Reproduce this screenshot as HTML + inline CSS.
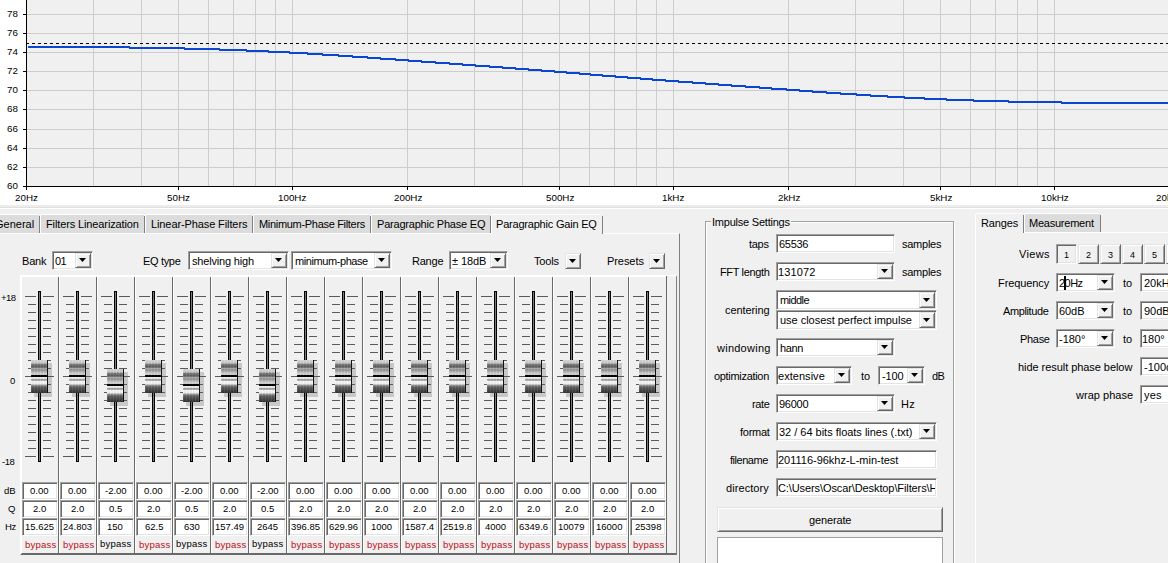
<!DOCTYPE html><html><head><meta charset="utf-8"><style>
html,body{margin:0;padding:0}
body{width:1168px;height:563px;overflow:hidden;position:relative;background:#f0f0f0;font-family:"Liberation Sans",sans-serif}
.t{position:absolute;white-space:nowrap;line-height:1;color:#000}
.f10{font-size:10px}.f9{font-size:9px}.f9_5{font-size:9.5px}.f9_8{font-size:9.8px}.f11{font-size:11px}
.r{position:absolute}
.sk{border:1px solid;border-color:#a0a0a0 #fff #fff #a0a0a0;box-shadow:inset 1px 1px #696969, inset -1px -1px #e3e3e3}
.rs{border:1px solid;border-color:#e3e3e3 #696969 #696969 #e3e3e3;box-shadow:inset 1px 1px #fff, inset -1px -1px #a0a0a0}
.thumb{width:16px;height:33px;border-right:1px solid #111;background:repeating-linear-gradient(90deg,rgba(255,255,255,.07) 0 1px,rgba(0,0,0,.03) 1px 3px),linear-gradient(#d8d8d8 0px,#c8c8c8 3px,#7a7a7a 4.5px,#5a5a5a 7px,#a8a8a8 8.5px,#909090 10px,#b8b8b8 12px,#d0d0d0 13.5px,#c8c8c8 15px,#000 15px,#000 17px,#f4f4f4 17px,#e0e0e0 19px,#a0a0a0 19.5px,#b0b0b0 20.5px,#f8f8f8 21.5px,#f0f0f0 24px,#a0a0a0 25px,#606060 27px,#303030 33px)}
</style></head><body><svg class="r" style="left:0;top:0" width="1168" height="205" shape-rendering="crispEdges"><rect x="0" y="0" width="1168" height="205" fill="#fff"/><rect x="27" y="0" width="1141" height="186" fill="#f0f0f0"/><rect x="27" y="14" width="1141" height="1" fill="#cdcdcd"/><rect x="27" y="33" width="1141" height="1" fill="#cdcdcd"/><rect x="27" y="52" width="1141" height="1" fill="#cdcdcd"/><rect x="27" y="71" width="1141" height="1" fill="#cdcdcd"/><rect x="27" y="90" width="1141" height="1" fill="#cdcdcd"/><rect x="27" y="109" width="1141" height="1" fill="#cdcdcd"/><rect x="27" y="129" width="1141" height="1" fill="#cdcdcd"/><rect x="27" y="148" width="1141" height="1" fill="#cdcdcd"/><rect x="27" y="167" width="1141" height="1" fill="#cdcdcd"/><rect x="93" y="0" width="1" height="186" fill="#cdcdcd"/><rect x="141" y="0" width="1" height="186" fill="#cdcdcd"/><rect x="178" y="0" width="1" height="186" fill="#cdcdcd"/><rect x="208" y="0" width="1" height="186" fill="#cdcdcd"/><rect x="233" y="0" width="1" height="186" fill="#cdcdcd"/><rect x="255" y="0" width="1" height="186" fill="#cdcdcd"/><rect x="275" y="0" width="1" height="186" fill="#cdcdcd"/><rect x="292" y="0" width="1" height="186" fill="#cdcdcd"/><rect x="407" y="0" width="1" height="186" fill="#cdcdcd"/><rect x="474" y="0" width="1" height="186" fill="#cdcdcd"/><rect x="522" y="0" width="1" height="186" fill="#cdcdcd"/><rect x="559" y="0" width="1" height="186" fill="#cdcdcd"/><rect x="589" y="0" width="1" height="186" fill="#cdcdcd"/><rect x="614" y="0" width="1" height="186" fill="#cdcdcd"/><rect x="636" y="0" width="1" height="186" fill="#cdcdcd"/><rect x="656" y="0" width="1" height="186" fill="#cdcdcd"/><rect x="673" y="0" width="1" height="186" fill="#cdcdcd"/><rect x="788" y="0" width="1" height="186" fill="#cdcdcd"/><rect x="855" y="0" width="1" height="186" fill="#cdcdcd"/><rect x="903" y="0" width="1" height="186" fill="#cdcdcd"/><rect x="940" y="0" width="1" height="186" fill="#cdcdcd"/><rect x="970" y="0" width="1" height="186" fill="#cdcdcd"/><rect x="995" y="0" width="1" height="186" fill="#cdcdcd"/><rect x="1017" y="0" width="1" height="186" fill="#cdcdcd"/><rect x="1037" y="0" width="1" height="186" fill="#cdcdcd"/><rect x="1054" y="0" width="1" height="186" fill="#cdcdcd"/><line x1="26" y1="43.5" x2="1168" y2="43.5" stroke="#000" stroke-width="1" stroke-dasharray="3 3"/><rect x="28" y="46" width="102" height="2" fill="#0a46d2"/><rect x="129" y="47" width="56" height="2" fill="#0a46d2"/><rect x="184" y="48" width="36" height="2" fill="#0a46d2"/><rect x="219" y="49" width="28" height="2" fill="#0a46d2"/><rect x="246" y="50" width="23" height="2" fill="#0a46d2"/><rect x="268" y="51" width="22" height="2" fill="#0a46d2"/><rect x="289" y="52" width="19" height="2" fill="#0a46d2"/><rect x="307" y="53" width="16" height="2" fill="#0a46d2"/><rect x="322" y="54" width="17" height="2" fill="#0a46d2"/><rect x="338" y="55" width="15" height="2" fill="#0a46d2"/><rect x="352" y="56" width="16" height="2" fill="#0a46d2"/><rect x="367" y="57" width="14" height="2" fill="#0a46d2"/><rect x="380" y="58" width="16" height="2" fill="#0a46d2"/><rect x="395" y="59" width="14" height="2" fill="#0a46d2"/><rect x="408" y="60" width="14" height="2" fill="#0a46d2"/><rect x="421" y="61" width="15" height="2" fill="#0a46d2"/><rect x="435" y="62" width="15" height="2" fill="#0a46d2"/><rect x="449" y="63" width="14" height="2" fill="#0a46d2"/><rect x="462" y="64" width="14" height="2" fill="#0a46d2"/><rect x="475" y="65" width="15" height="2" fill="#0a46d2"/><rect x="489" y="66" width="14" height="2" fill="#0a46d2"/><rect x="502" y="67" width="14" height="2" fill="#0a46d2"/><rect x="515" y="68" width="14" height="2" fill="#0a46d2"/><rect x="528" y="69" width="14" height="2" fill="#0a46d2"/><rect x="541" y="70" width="14" height="2" fill="#0a46d2"/><rect x="554" y="71" width="13" height="2" fill="#0a46d2"/><rect x="566" y="72" width="14" height="2" fill="#0a46d2"/><rect x="579" y="73" width="12" height="2" fill="#0a46d2"/><rect x="590" y="74" width="13" height="2" fill="#0a46d2"/><rect x="602" y="75" width="14" height="2" fill="#0a46d2"/><rect x="615" y="76" width="13" height="2" fill="#0a46d2"/><rect x="627" y="77" width="14" height="2" fill="#0a46d2"/><rect x="640" y="78" width="13" height="2" fill="#0a46d2"/><rect x="652" y="79" width="14" height="2" fill="#0a46d2"/><rect x="665" y="80" width="14" height="2" fill="#0a46d2"/><rect x="678" y="81" width="15" height="2" fill="#0a46d2"/><rect x="692" y="82" width="14" height="2" fill="#0a46d2"/><rect x="705" y="83" width="14" height="2" fill="#0a46d2"/><rect x="718" y="84" width="14" height="2" fill="#0a46d2"/><rect x="731" y="85" width="15" height="2" fill="#0a46d2"/><rect x="745" y="86" width="15" height="2" fill="#0a46d2"/><rect x="759" y="87" width="13" height="2" fill="#0a46d2"/><rect x="771" y="88" width="16" height="2" fill="#0a46d2"/><rect x="786" y="89" width="14" height="2" fill="#0a46d2"/><rect x="799" y="90" width="14" height="2" fill="#0a46d2"/><rect x="812" y="91" width="15" height="2" fill="#0a46d2"/><rect x="826" y="92" width="15" height="2" fill="#0a46d2"/><rect x="840" y="93" width="17" height="2" fill="#0a46d2"/><rect x="856" y="94" width="15" height="2" fill="#0a46d2"/><rect x="870" y="95" width="18" height="2" fill="#0a46d2"/><rect x="887" y="96" width="18" height="2" fill="#0a46d2"/><rect x="904" y="97" width="21" height="2" fill="#0a46d2"/><rect x="924" y="98" width="23" height="2" fill="#0a46d2"/><rect x="946" y="99" width="28" height="2" fill="#0a46d2"/><rect x="973" y="100" width="36" height="2" fill="#0a46d2"/><rect x="1008" y="101" width="54" height="2" fill="#0a46d2"/><rect x="1061" y="102" width="108" height="2" fill="#0a46d2"/><rect x="26" y="0" width="1" height="190" fill="#000"/><rect x="23" y="186" width="1145" height="1" fill="#000"/><rect x="23" y="14" width="3" height="1" fill="#000"/><rect x="23" y="33" width="3" height="1" fill="#000"/><rect x="23" y="52" width="3" height="1" fill="#000"/><rect x="23" y="71" width="3" height="1" fill="#000"/><rect x="23" y="90" width="3" height="1" fill="#000"/><rect x="23" y="109" width="3" height="1" fill="#000"/><rect x="23" y="129" width="3" height="1" fill="#000"/><rect x="23" y="148" width="3" height="1" fill="#000"/><rect x="23" y="167" width="3" height="1" fill="#000"/><rect x="26" y="186" width="1" height="4" fill="#000"/><rect x="178" y="186" width="1" height="4" fill="#000"/><rect x="292" y="186" width="1" height="4" fill="#000"/><rect x="407" y="186" width="1" height="4" fill="#000"/><rect x="559" y="186" width="1" height="4" fill="#000"/><rect x="673" y="186" width="1" height="4" fill="#000"/><rect x="788" y="186" width="1" height="4" fill="#000"/><rect x="940" y="186" width="1" height="4" fill="#000"/><rect x="1054" y="186" width="1" height="4" fill="#000"/><rect x="1169" y="186" width="1" height="4" fill="#000"/></svg>
<div class="t f9_8" style="left:7px;top:9px;">78</div>
<div class="t f9_8" style="left:7px;top:28px;">76</div>
<div class="t f9_8" style="left:7px;top:47px;">74</div>
<div class="t f9_8" style="left:7px;top:66px;">72</div>
<div class="t f9_8" style="left:7px;top:85px;">70</div>
<div class="t f9_8" style="left:7px;top:104px;">68</div>
<div class="t f9_8" style="left:7px;top:124px;">66</div>
<div class="t f9_8" style="left:7px;top:143px;">64</div>
<div class="t f9_8" style="left:7px;top:162px;">62</div>
<div class="t f9_8" style="left:7px;top:181px;">60</div>
<div class="t f9_8" style="left:15px;top:193px;">20Hz</div>
<div class="t f9_8" style="left:167px;top:193px;">50Hz</div>
<div class="t f9_8" style="left:278px;top:193px;">100Hz</div>
<div class="t f9_8" style="left:394px;top:193px;">200Hz</div>
<div class="t f9_8" style="left:546px;top:193px;">500Hz</div>
<div class="t f9_8" style="left:662px;top:193px;">1kHz</div>
<div class="t f9_8" style="left:778px;top:193px;">2kHz</div>
<div class="t f9_8" style="left:930px;top:193px;">5kHz</div>
<div class="t f9_8" style="left:1041px;top:193px;">10kHz</div>
<div class="t f9_8" style="left:1156px;top:193px;">20kHz</div>
<div class="r" style="left:0px;top:205px;width:1168px;height:2px;background:#ededed;"></div>
<div class="r" style="left:0px;top:207px;width:1168px;height:1px;background:#e0e0e0;"></div>
<div class="r" style="left:0px;top:208px;width:1168px;height:1px;background:#fff;"></div>
<div class="r" style="left:-5px;top:233px;width:685px;height:400px;background:#f0f0f0;border-top:1px solid #fff;border-right:1px solid #808080;box-sizing:border-box"></div>
<div class="r" style="left:-9px;top:215px;width:48px;height:18px;background:#dcdcdc;"></div>
<div class="r" style="left:-9px;top:214px;width:47px;height:1px;background:#fff;"></div>
<div class="r" style="left:-10px;top:215px;width:1px;height:18px;background:#fff;"></div>
<div class="r" style="left:39px;top:216px;width:1px;height:17px;background:#808080;"></div>
<div class="t f11" style="left:-5px;top:219px;">General</div>
<div class="r" style="left:41px;top:215px;width:103px;height:18px;background:#dcdcdc;"></div>
<div class="r" style="left:41px;top:214px;width:102px;height:1px;background:#fff;"></div>
<div class="r" style="left:40px;top:215px;width:1px;height:18px;background:#fff;"></div>
<div class="r" style="left:144px;top:216px;width:1px;height:17px;background:#808080;"></div>
<div class="t f11" style="left:46px;top:219px;letter-spacing:-0.12px;">Filters Linearization</div>
<div class="r" style="left:146px;top:215px;width:106px;height:18px;background:#dcdcdc;"></div>
<div class="r" style="left:146px;top:214px;width:105px;height:1px;background:#fff;"></div>
<div class="r" style="left:145px;top:215px;width:1px;height:18px;background:#fff;"></div>
<div class="r" style="left:252px;top:216px;width:1px;height:17px;background:#808080;"></div>
<div class="t f11" style="left:151px;top:219px;letter-spacing:-0.105px;">Linear-Phase Filters</div>
<div class="r" style="left:254px;top:215px;width:116px;height:18px;background:#dcdcdc;"></div>
<div class="r" style="left:254px;top:214px;width:115px;height:1px;background:#fff;"></div>
<div class="r" style="left:253px;top:215px;width:1px;height:18px;background:#fff;"></div>
<div class="r" style="left:370px;top:216px;width:1px;height:17px;background:#808080;"></div>
<div class="t f11" style="left:259px;top:219px;letter-spacing:-0.31px;">Minimum-Phase Filters</div>
<div class="r" style="left:372px;top:215px;width:118px;height:18px;background:#dcdcdc;"></div>
<div class="r" style="left:372px;top:214px;width:117px;height:1px;background:#fff;"></div>
<div class="r" style="left:371px;top:215px;width:1px;height:18px;background:#fff;"></div>
<div class="r" style="left:490px;top:216px;width:1px;height:17px;background:#808080;"></div>
<div class="t f11" style="left:377px;top:219px;letter-spacing:-0.211px;">Paragraphic Phase EQ</div>
<div class="r" style="left:492px;top:215px;width:110px;height:19px;background:#f0f0f0;"></div>
<div class="r" style="left:492px;top:214px;width:109px;height:1px;background:#fff;"></div>
<div class="r" style="left:491px;top:215px;width:1px;height:19px;background:#fff;"></div>
<div class="r" style="left:602px;top:216px;width:1px;height:18px;background:#808080;"></div>
<div class="t f11" style="left:496px;top:219px;letter-spacing:-0.206px;">Paragraphic Gain EQ</div>
<div class="t f11" style="left:22px;top:256px;letter-spacing:-0.2px;">Bank</div>
<div class="r sk" style="left:52px;top:251px;width:39px;height:17px;background:#fff"></div>
<div class="r rs" style="left:75px;top:253px;width:14px;height:13px;background:#f0f0f0"></div>
<svg class="r" style="left:79px;top:258px" width="7" height="4"><path d="M0 0H7L3.5 4Z" fill="#000"/></svg>
<div class="t f11" style="left:55px;top:256px;letter-spacing:-0.6px;">01</div>
<div class="t f11" style="left:143px;top:256px;letter-spacing:-0.333px;">EQ type</div>
<div class="r sk" style="left:188px;top:251px;width:99px;height:17px;background:#fff"></div>
<div class="r rs" style="left:271px;top:253px;width:14px;height:13px;background:#f0f0f0"></div>
<svg class="r" style="left:275px;top:258px" width="7" height="4"><path d="M0 0H7L3.5 4Z" fill="#000"/></svg>
<div class="t f11" style="left:192px;top:256px;letter-spacing:-0.183px;">shelving high</div>
<div class="r sk" style="left:291px;top:251px;width:99px;height:17px;background:#fff"></div>
<div class="r rs" style="left:374px;top:253px;width:14px;height:13px;background:#f0f0f0"></div>
<svg class="r" style="left:378px;top:258px" width="7" height="4"><path d="M0 0H7L3.5 4Z" fill="#000"/></svg>
<div class="t f11" style="left:295px;top:256px;letter-spacing:-0.417px;">minimum-phase</div>
<div class="t f11" style="left:412px;top:256px;letter-spacing:-0.225px;">Range</div>
<div class="r sk" style="left:449px;top:251px;width:57px;height:17px;background:#fff"></div>
<div class="r rs" style="left:490px;top:253px;width:14px;height:13px;background:#f0f0f0"></div>
<svg class="r" style="left:494px;top:258px" width="7" height="4"><path d="M0 0H7L3.5 4Z" fill="#000"/></svg>
<div class="t f11" style="left:452px;top:256px;letter-spacing:-0.1px;">&plusmn; 18dB</div>
<div class="t f11" style="left:534px;top:256px;letter-spacing:-0.15px;">Tools</div>
<div class="r rs" style="left:565px;top:253px;width:14px;height:14px;background:#f0f0f0"></div>
<svg class="r" style="left:569px;top:259px" width="7" height="4"><path d="M0 0H7L3.5 4Z" fill="#000"/></svg>
<div class="t f11" style="left:607px;top:256px;letter-spacing:-0.067px;">Presets</div>
<div class="r rs" style="left:649px;top:253px;width:14px;height:14px;background:#f0f0f0"></div>
<svg class="r" style="left:653px;top:259px" width="7" height="4"><path d="M0 0H7L3.5 4Z" fill="#000"/></svg>
<div class="r" style="left:20px;top:275px;width:657px;height:280px;background:#f0f0f0;border-top:2px solid #fff;border-left:2px solid #fff;border-right:1px solid #808080;border-bottom:2px solid #696969;box-sizing:border-box"></div>
<div class="t f9_5" style="left:1px;top:293px;letter-spacing:-0.6px;">+18</div>
<div class="t f9_5" style="left:10px;top:376px;">0</div>
<div class="t f9_5" style="left:2px;top:457px;letter-spacing:-0.5px;">-18</div>
<div class="t f9_5" style="left:4px;top:486px;">dB</div>
<div class="t f9_5" style="left:8px;top:504px;">Q</div>
<div class="t f9_5" style="left:5px;top:522px;letter-spacing:-0.4px;">Hz</div>
<div class="r" style="left:47px;top:363px;width:5px;height:34px;background:#c8c8c8"></div>
<div class="r" style="left:34px;top:392px;width:18px;height:5px;background:#c8c8c8"></div>
<div class="r" style="left:25px;top:296px;width:11px;height:1px;background:#5a5a5a;"></div>
<div class="r" style="left:43px;top:296px;width:11px;height:1px;background:#5a5a5a;"></div>
<div class="r" style="left:28px;top:304px;width:8px;height:1px;background:#5a5a5a;"></div>
<div class="r" style="left:43px;top:304px;width:8px;height:1px;background:#5a5a5a;"></div>
<div class="r" style="left:28px;top:312px;width:8px;height:1px;background:#5a5a5a;"></div>
<div class="r" style="left:43px;top:312px;width:8px;height:1px;background:#5a5a5a;"></div>
<div class="r" style="left:28px;top:320px;width:8px;height:1px;background:#5a5a5a;"></div>
<div class="r" style="left:43px;top:320px;width:8px;height:1px;background:#5a5a5a;"></div>
<div class="r" style="left:28px;top:328px;width:8px;height:1px;background:#5a5a5a;"></div>
<div class="r" style="left:43px;top:328px;width:8px;height:1px;background:#5a5a5a;"></div>
<div class="r" style="left:28px;top:336px;width:8px;height:1px;background:#5a5a5a;"></div>
<div class="r" style="left:43px;top:336px;width:8px;height:1px;background:#5a5a5a;"></div>
<div class="r" style="left:28px;top:344px;width:8px;height:1px;background:#5a5a5a;"></div>
<div class="r" style="left:43px;top:344px;width:8px;height:1px;background:#5a5a5a;"></div>
<div class="r" style="left:28px;top:352px;width:8px;height:1px;background:#5a5a5a;"></div>
<div class="r" style="left:43px;top:352px;width:8px;height:1px;background:#5a5a5a;"></div>
<div class="r" style="left:28px;top:360px;width:8px;height:1px;background:#5a5a5a;"></div>
<div class="r" style="left:43px;top:360px;width:8px;height:1px;background:#5a5a5a;"></div>
<div class="r" style="left:28px;top:368px;width:8px;height:1px;background:#5a5a5a;"></div>
<div class="r" style="left:43px;top:368px;width:8px;height:1px;background:#5a5a5a;"></div>
<div class="r" style="left:25px;top:376px;width:11px;height:1px;background:#5a5a5a;"></div>
<div class="r" style="left:43px;top:376px;width:11px;height:1px;background:#5a5a5a;"></div>
<div class="r" style="left:28px;top:384px;width:8px;height:1px;background:#5a5a5a;"></div>
<div class="r" style="left:43px;top:384px;width:8px;height:1px;background:#5a5a5a;"></div>
<div class="r" style="left:28px;top:392px;width:8px;height:1px;background:#5a5a5a;"></div>
<div class="r" style="left:43px;top:392px;width:8px;height:1px;background:#5a5a5a;"></div>
<div class="r" style="left:28px;top:400px;width:8px;height:1px;background:#5a5a5a;"></div>
<div class="r" style="left:43px;top:400px;width:8px;height:1px;background:#5a5a5a;"></div>
<div class="r" style="left:28px;top:408px;width:8px;height:1px;background:#5a5a5a;"></div>
<div class="r" style="left:43px;top:408px;width:8px;height:1px;background:#5a5a5a;"></div>
<div class="r" style="left:28px;top:416px;width:8px;height:1px;background:#5a5a5a;"></div>
<div class="r" style="left:43px;top:416px;width:8px;height:1px;background:#5a5a5a;"></div>
<div class="r" style="left:28px;top:424px;width:8px;height:1px;background:#5a5a5a;"></div>
<div class="r" style="left:43px;top:424px;width:8px;height:1px;background:#5a5a5a;"></div>
<div class="r" style="left:28px;top:432px;width:8px;height:1px;background:#5a5a5a;"></div>
<div class="r" style="left:43px;top:432px;width:8px;height:1px;background:#5a5a5a;"></div>
<div class="r" style="left:28px;top:440px;width:8px;height:1px;background:#5a5a5a;"></div>
<div class="r" style="left:43px;top:440px;width:8px;height:1px;background:#5a5a5a;"></div>
<div class="r" style="left:28px;top:448px;width:8px;height:1px;background:#5a5a5a;"></div>
<div class="r" style="left:43px;top:448px;width:8px;height:1px;background:#5a5a5a;"></div>
<div class="r" style="left:25px;top:456px;width:11px;height:1px;background:#5a5a5a;"></div>
<div class="r" style="left:43px;top:456px;width:11px;height:1px;background:#5a5a5a;"></div>
<div class="r" style="left:38px;top:291px;width:3px;height:171px;background:#7a7a7a;border:1px solid #000;box-sizing:border-box"></div>
<div class="r thumb" style="left:31px;top:360px"></div>
<div class="r" style="left:31px;top:376px;width:17px;height:1px;background:#000;"></div>
<div class="r sk" style="left:22px;top:482px;width:34px;height:16px;background:#fff"></div>
<div class="t f9_5" style="left:30px;top:486px;">0.00</div>
<div class="r sk" style="left:22px;top:500px;width:34px;height:16px;background:#fff"></div>
<div class="t f9_5" style="left:33px;top:504px;">2.0</div>
<div class="r sk" style="left:22px;top:518px;width:34px;height:16px;background:#fff"></div>
<div class="t f9_5" style="left:25px;top:522px;">15.625</div>
<div class="t f9_5" style="left:25px;top:540px;letter-spacing:0.25px;color:#bb0f18;">bypass</div>
<div class="r" style="left:58px;top:277px;width:2px;height:276px;background:#fff;border-left:1px solid #696969;box-sizing:border-box"></div>
<div class="r" style="left:85px;top:363px;width:5px;height:34px;background:#c8c8c8"></div>
<div class="r" style="left:72px;top:392px;width:18px;height:5px;background:#c8c8c8"></div>
<div class="r" style="left:63px;top:296px;width:11px;height:1px;background:#5a5a5a;"></div>
<div class="r" style="left:81px;top:296px;width:11px;height:1px;background:#5a5a5a;"></div>
<div class="r" style="left:66px;top:304px;width:8px;height:1px;background:#5a5a5a;"></div>
<div class="r" style="left:81px;top:304px;width:8px;height:1px;background:#5a5a5a;"></div>
<div class="r" style="left:66px;top:312px;width:8px;height:1px;background:#5a5a5a;"></div>
<div class="r" style="left:81px;top:312px;width:8px;height:1px;background:#5a5a5a;"></div>
<div class="r" style="left:66px;top:320px;width:8px;height:1px;background:#5a5a5a;"></div>
<div class="r" style="left:81px;top:320px;width:8px;height:1px;background:#5a5a5a;"></div>
<div class="r" style="left:66px;top:328px;width:8px;height:1px;background:#5a5a5a;"></div>
<div class="r" style="left:81px;top:328px;width:8px;height:1px;background:#5a5a5a;"></div>
<div class="r" style="left:66px;top:336px;width:8px;height:1px;background:#5a5a5a;"></div>
<div class="r" style="left:81px;top:336px;width:8px;height:1px;background:#5a5a5a;"></div>
<div class="r" style="left:66px;top:344px;width:8px;height:1px;background:#5a5a5a;"></div>
<div class="r" style="left:81px;top:344px;width:8px;height:1px;background:#5a5a5a;"></div>
<div class="r" style="left:66px;top:352px;width:8px;height:1px;background:#5a5a5a;"></div>
<div class="r" style="left:81px;top:352px;width:8px;height:1px;background:#5a5a5a;"></div>
<div class="r" style="left:66px;top:360px;width:8px;height:1px;background:#5a5a5a;"></div>
<div class="r" style="left:81px;top:360px;width:8px;height:1px;background:#5a5a5a;"></div>
<div class="r" style="left:66px;top:368px;width:8px;height:1px;background:#5a5a5a;"></div>
<div class="r" style="left:81px;top:368px;width:8px;height:1px;background:#5a5a5a;"></div>
<div class="r" style="left:63px;top:376px;width:11px;height:1px;background:#5a5a5a;"></div>
<div class="r" style="left:81px;top:376px;width:11px;height:1px;background:#5a5a5a;"></div>
<div class="r" style="left:66px;top:384px;width:8px;height:1px;background:#5a5a5a;"></div>
<div class="r" style="left:81px;top:384px;width:8px;height:1px;background:#5a5a5a;"></div>
<div class="r" style="left:66px;top:392px;width:8px;height:1px;background:#5a5a5a;"></div>
<div class="r" style="left:81px;top:392px;width:8px;height:1px;background:#5a5a5a;"></div>
<div class="r" style="left:66px;top:400px;width:8px;height:1px;background:#5a5a5a;"></div>
<div class="r" style="left:81px;top:400px;width:8px;height:1px;background:#5a5a5a;"></div>
<div class="r" style="left:66px;top:408px;width:8px;height:1px;background:#5a5a5a;"></div>
<div class="r" style="left:81px;top:408px;width:8px;height:1px;background:#5a5a5a;"></div>
<div class="r" style="left:66px;top:416px;width:8px;height:1px;background:#5a5a5a;"></div>
<div class="r" style="left:81px;top:416px;width:8px;height:1px;background:#5a5a5a;"></div>
<div class="r" style="left:66px;top:424px;width:8px;height:1px;background:#5a5a5a;"></div>
<div class="r" style="left:81px;top:424px;width:8px;height:1px;background:#5a5a5a;"></div>
<div class="r" style="left:66px;top:432px;width:8px;height:1px;background:#5a5a5a;"></div>
<div class="r" style="left:81px;top:432px;width:8px;height:1px;background:#5a5a5a;"></div>
<div class="r" style="left:66px;top:440px;width:8px;height:1px;background:#5a5a5a;"></div>
<div class="r" style="left:81px;top:440px;width:8px;height:1px;background:#5a5a5a;"></div>
<div class="r" style="left:66px;top:448px;width:8px;height:1px;background:#5a5a5a;"></div>
<div class="r" style="left:81px;top:448px;width:8px;height:1px;background:#5a5a5a;"></div>
<div class="r" style="left:63px;top:456px;width:11px;height:1px;background:#5a5a5a;"></div>
<div class="r" style="left:81px;top:456px;width:11px;height:1px;background:#5a5a5a;"></div>
<div class="r" style="left:76px;top:291px;width:3px;height:171px;background:#7a7a7a;border:1px solid #000;box-sizing:border-box"></div>
<div class="r thumb" style="left:69px;top:360px"></div>
<div class="r" style="left:69px;top:376px;width:17px;height:1px;background:#000;"></div>
<div class="r sk" style="left:60px;top:482px;width:34px;height:16px;background:#fff"></div>
<div class="t f9_5" style="left:68px;top:486px;">0.00</div>
<div class="r sk" style="left:60px;top:500px;width:34px;height:16px;background:#fff"></div>
<div class="t f9_5" style="left:71px;top:504px;">2.0</div>
<div class="r sk" style="left:60px;top:518px;width:34px;height:16px;background:#fff"></div>
<div class="t f9_5" style="left:63px;top:522px;">24.803</div>
<div class="t f9_5" style="left:63px;top:540px;letter-spacing:0.25px;color:#bb0f18;">bypass</div>
<div class="r" style="left:96px;top:277px;width:2px;height:276px;background:#fff;border-left:1px solid #696969;box-sizing:border-box"></div>
<div class="r" style="left:123px;top:372px;width:5px;height:34px;background:#c8c8c8"></div>
<div class="r" style="left:110px;top:401px;width:18px;height:5px;background:#c8c8c8"></div>
<div class="r" style="left:101px;top:296px;width:11px;height:1px;background:#5a5a5a;"></div>
<div class="r" style="left:119px;top:296px;width:11px;height:1px;background:#5a5a5a;"></div>
<div class="r" style="left:104px;top:304px;width:8px;height:1px;background:#5a5a5a;"></div>
<div class="r" style="left:119px;top:304px;width:8px;height:1px;background:#5a5a5a;"></div>
<div class="r" style="left:104px;top:312px;width:8px;height:1px;background:#5a5a5a;"></div>
<div class="r" style="left:119px;top:312px;width:8px;height:1px;background:#5a5a5a;"></div>
<div class="r" style="left:104px;top:320px;width:8px;height:1px;background:#5a5a5a;"></div>
<div class="r" style="left:119px;top:320px;width:8px;height:1px;background:#5a5a5a;"></div>
<div class="r" style="left:104px;top:328px;width:8px;height:1px;background:#5a5a5a;"></div>
<div class="r" style="left:119px;top:328px;width:8px;height:1px;background:#5a5a5a;"></div>
<div class="r" style="left:104px;top:336px;width:8px;height:1px;background:#5a5a5a;"></div>
<div class="r" style="left:119px;top:336px;width:8px;height:1px;background:#5a5a5a;"></div>
<div class="r" style="left:104px;top:344px;width:8px;height:1px;background:#5a5a5a;"></div>
<div class="r" style="left:119px;top:344px;width:8px;height:1px;background:#5a5a5a;"></div>
<div class="r" style="left:104px;top:352px;width:8px;height:1px;background:#5a5a5a;"></div>
<div class="r" style="left:119px;top:352px;width:8px;height:1px;background:#5a5a5a;"></div>
<div class="r" style="left:104px;top:360px;width:8px;height:1px;background:#5a5a5a;"></div>
<div class="r" style="left:119px;top:360px;width:8px;height:1px;background:#5a5a5a;"></div>
<div class="r" style="left:104px;top:368px;width:8px;height:1px;background:#5a5a5a;"></div>
<div class="r" style="left:119px;top:368px;width:8px;height:1px;background:#5a5a5a;"></div>
<div class="r" style="left:101px;top:376px;width:11px;height:1px;background:#5a5a5a;"></div>
<div class="r" style="left:119px;top:376px;width:11px;height:1px;background:#5a5a5a;"></div>
<div class="r" style="left:104px;top:384px;width:8px;height:1px;background:#5a5a5a;"></div>
<div class="r" style="left:119px;top:384px;width:8px;height:1px;background:#5a5a5a;"></div>
<div class="r" style="left:104px;top:392px;width:8px;height:1px;background:#5a5a5a;"></div>
<div class="r" style="left:119px;top:392px;width:8px;height:1px;background:#5a5a5a;"></div>
<div class="r" style="left:104px;top:400px;width:8px;height:1px;background:#5a5a5a;"></div>
<div class="r" style="left:119px;top:400px;width:8px;height:1px;background:#5a5a5a;"></div>
<div class="r" style="left:104px;top:408px;width:8px;height:1px;background:#5a5a5a;"></div>
<div class="r" style="left:119px;top:408px;width:8px;height:1px;background:#5a5a5a;"></div>
<div class="r" style="left:104px;top:416px;width:8px;height:1px;background:#5a5a5a;"></div>
<div class="r" style="left:119px;top:416px;width:8px;height:1px;background:#5a5a5a;"></div>
<div class="r" style="left:104px;top:424px;width:8px;height:1px;background:#5a5a5a;"></div>
<div class="r" style="left:119px;top:424px;width:8px;height:1px;background:#5a5a5a;"></div>
<div class="r" style="left:104px;top:432px;width:8px;height:1px;background:#5a5a5a;"></div>
<div class="r" style="left:119px;top:432px;width:8px;height:1px;background:#5a5a5a;"></div>
<div class="r" style="left:104px;top:440px;width:8px;height:1px;background:#5a5a5a;"></div>
<div class="r" style="left:119px;top:440px;width:8px;height:1px;background:#5a5a5a;"></div>
<div class="r" style="left:104px;top:448px;width:8px;height:1px;background:#5a5a5a;"></div>
<div class="r" style="left:119px;top:448px;width:8px;height:1px;background:#5a5a5a;"></div>
<div class="r" style="left:101px;top:456px;width:11px;height:1px;background:#5a5a5a;"></div>
<div class="r" style="left:119px;top:456px;width:11px;height:1px;background:#5a5a5a;"></div>
<div class="r" style="left:114px;top:291px;width:3px;height:171px;background:#7a7a7a;border:1px solid #000;box-sizing:border-box"></div>
<div class="r thumb" style="left:107px;top:369px"></div>
<div class="r" style="left:107px;top:385px;width:17px;height:1px;background:#000;"></div>
<div class="r sk" style="left:98px;top:482px;width:34px;height:16px;background:#fff"></div>
<div class="t f9_5" style="left:105px;top:486px;">-2.00</div>
<div class="r sk" style="left:98px;top:500px;width:34px;height:16px;background:#fff"></div>
<div class="t f9_5" style="left:109px;top:504px;">0.5</div>
<div class="r sk" style="left:98px;top:518px;width:34px;height:16px;background:#fff"></div>
<div class="t f9_5" style="left:107px;top:522px;">150</div>
<div class="t f9_5" style="left:100px;top:539px;letter-spacing:0.25px;">bypass</div>
<div class="r" style="left:134px;top:277px;width:2px;height:276px;background:#fff;border-left:1px solid #696969;box-sizing:border-box"></div>
<div class="r" style="left:161px;top:363px;width:5px;height:34px;background:#c8c8c8"></div>
<div class="r" style="left:148px;top:392px;width:18px;height:5px;background:#c8c8c8"></div>
<div class="r" style="left:139px;top:296px;width:11px;height:1px;background:#5a5a5a;"></div>
<div class="r" style="left:157px;top:296px;width:11px;height:1px;background:#5a5a5a;"></div>
<div class="r" style="left:142px;top:304px;width:8px;height:1px;background:#5a5a5a;"></div>
<div class="r" style="left:157px;top:304px;width:8px;height:1px;background:#5a5a5a;"></div>
<div class="r" style="left:142px;top:312px;width:8px;height:1px;background:#5a5a5a;"></div>
<div class="r" style="left:157px;top:312px;width:8px;height:1px;background:#5a5a5a;"></div>
<div class="r" style="left:142px;top:320px;width:8px;height:1px;background:#5a5a5a;"></div>
<div class="r" style="left:157px;top:320px;width:8px;height:1px;background:#5a5a5a;"></div>
<div class="r" style="left:142px;top:328px;width:8px;height:1px;background:#5a5a5a;"></div>
<div class="r" style="left:157px;top:328px;width:8px;height:1px;background:#5a5a5a;"></div>
<div class="r" style="left:142px;top:336px;width:8px;height:1px;background:#5a5a5a;"></div>
<div class="r" style="left:157px;top:336px;width:8px;height:1px;background:#5a5a5a;"></div>
<div class="r" style="left:142px;top:344px;width:8px;height:1px;background:#5a5a5a;"></div>
<div class="r" style="left:157px;top:344px;width:8px;height:1px;background:#5a5a5a;"></div>
<div class="r" style="left:142px;top:352px;width:8px;height:1px;background:#5a5a5a;"></div>
<div class="r" style="left:157px;top:352px;width:8px;height:1px;background:#5a5a5a;"></div>
<div class="r" style="left:142px;top:360px;width:8px;height:1px;background:#5a5a5a;"></div>
<div class="r" style="left:157px;top:360px;width:8px;height:1px;background:#5a5a5a;"></div>
<div class="r" style="left:142px;top:368px;width:8px;height:1px;background:#5a5a5a;"></div>
<div class="r" style="left:157px;top:368px;width:8px;height:1px;background:#5a5a5a;"></div>
<div class="r" style="left:139px;top:376px;width:11px;height:1px;background:#5a5a5a;"></div>
<div class="r" style="left:157px;top:376px;width:11px;height:1px;background:#5a5a5a;"></div>
<div class="r" style="left:142px;top:384px;width:8px;height:1px;background:#5a5a5a;"></div>
<div class="r" style="left:157px;top:384px;width:8px;height:1px;background:#5a5a5a;"></div>
<div class="r" style="left:142px;top:392px;width:8px;height:1px;background:#5a5a5a;"></div>
<div class="r" style="left:157px;top:392px;width:8px;height:1px;background:#5a5a5a;"></div>
<div class="r" style="left:142px;top:400px;width:8px;height:1px;background:#5a5a5a;"></div>
<div class="r" style="left:157px;top:400px;width:8px;height:1px;background:#5a5a5a;"></div>
<div class="r" style="left:142px;top:408px;width:8px;height:1px;background:#5a5a5a;"></div>
<div class="r" style="left:157px;top:408px;width:8px;height:1px;background:#5a5a5a;"></div>
<div class="r" style="left:142px;top:416px;width:8px;height:1px;background:#5a5a5a;"></div>
<div class="r" style="left:157px;top:416px;width:8px;height:1px;background:#5a5a5a;"></div>
<div class="r" style="left:142px;top:424px;width:8px;height:1px;background:#5a5a5a;"></div>
<div class="r" style="left:157px;top:424px;width:8px;height:1px;background:#5a5a5a;"></div>
<div class="r" style="left:142px;top:432px;width:8px;height:1px;background:#5a5a5a;"></div>
<div class="r" style="left:157px;top:432px;width:8px;height:1px;background:#5a5a5a;"></div>
<div class="r" style="left:142px;top:440px;width:8px;height:1px;background:#5a5a5a;"></div>
<div class="r" style="left:157px;top:440px;width:8px;height:1px;background:#5a5a5a;"></div>
<div class="r" style="left:142px;top:448px;width:8px;height:1px;background:#5a5a5a;"></div>
<div class="r" style="left:157px;top:448px;width:8px;height:1px;background:#5a5a5a;"></div>
<div class="r" style="left:139px;top:456px;width:11px;height:1px;background:#5a5a5a;"></div>
<div class="r" style="left:157px;top:456px;width:11px;height:1px;background:#5a5a5a;"></div>
<div class="r" style="left:152px;top:291px;width:3px;height:171px;background:#7a7a7a;border:1px solid #000;box-sizing:border-box"></div>
<div class="r thumb" style="left:145px;top:360px"></div>
<div class="r" style="left:145px;top:376px;width:17px;height:1px;background:#000;"></div>
<div class="r sk" style="left:136px;top:482px;width:34px;height:16px;background:#fff"></div>
<div class="t f9_5" style="left:144px;top:486px;">0.00</div>
<div class="r sk" style="left:136px;top:500px;width:34px;height:16px;background:#fff"></div>
<div class="t f9_5" style="left:147px;top:504px;">2.0</div>
<div class="r sk" style="left:136px;top:518px;width:34px;height:16px;background:#fff"></div>
<div class="t f9_5" style="left:145px;top:522px;">62.5</div>
<div class="t f9_5" style="left:139px;top:540px;letter-spacing:0.25px;color:#bb0f18;">bypass</div>
<div class="r" style="left:172px;top:277px;width:2px;height:276px;background:#fff;border-left:1px solid #696969;box-sizing:border-box"></div>
<div class="r" style="left:199px;top:372px;width:5px;height:34px;background:#c8c8c8"></div>
<div class="r" style="left:186px;top:401px;width:18px;height:5px;background:#c8c8c8"></div>
<div class="r" style="left:177px;top:296px;width:11px;height:1px;background:#5a5a5a;"></div>
<div class="r" style="left:195px;top:296px;width:11px;height:1px;background:#5a5a5a;"></div>
<div class="r" style="left:180px;top:304px;width:8px;height:1px;background:#5a5a5a;"></div>
<div class="r" style="left:195px;top:304px;width:8px;height:1px;background:#5a5a5a;"></div>
<div class="r" style="left:180px;top:312px;width:8px;height:1px;background:#5a5a5a;"></div>
<div class="r" style="left:195px;top:312px;width:8px;height:1px;background:#5a5a5a;"></div>
<div class="r" style="left:180px;top:320px;width:8px;height:1px;background:#5a5a5a;"></div>
<div class="r" style="left:195px;top:320px;width:8px;height:1px;background:#5a5a5a;"></div>
<div class="r" style="left:180px;top:328px;width:8px;height:1px;background:#5a5a5a;"></div>
<div class="r" style="left:195px;top:328px;width:8px;height:1px;background:#5a5a5a;"></div>
<div class="r" style="left:180px;top:336px;width:8px;height:1px;background:#5a5a5a;"></div>
<div class="r" style="left:195px;top:336px;width:8px;height:1px;background:#5a5a5a;"></div>
<div class="r" style="left:180px;top:344px;width:8px;height:1px;background:#5a5a5a;"></div>
<div class="r" style="left:195px;top:344px;width:8px;height:1px;background:#5a5a5a;"></div>
<div class="r" style="left:180px;top:352px;width:8px;height:1px;background:#5a5a5a;"></div>
<div class="r" style="left:195px;top:352px;width:8px;height:1px;background:#5a5a5a;"></div>
<div class="r" style="left:180px;top:360px;width:8px;height:1px;background:#5a5a5a;"></div>
<div class="r" style="left:195px;top:360px;width:8px;height:1px;background:#5a5a5a;"></div>
<div class="r" style="left:180px;top:368px;width:8px;height:1px;background:#5a5a5a;"></div>
<div class="r" style="left:195px;top:368px;width:8px;height:1px;background:#5a5a5a;"></div>
<div class="r" style="left:177px;top:376px;width:11px;height:1px;background:#5a5a5a;"></div>
<div class="r" style="left:195px;top:376px;width:11px;height:1px;background:#5a5a5a;"></div>
<div class="r" style="left:180px;top:384px;width:8px;height:1px;background:#5a5a5a;"></div>
<div class="r" style="left:195px;top:384px;width:8px;height:1px;background:#5a5a5a;"></div>
<div class="r" style="left:180px;top:392px;width:8px;height:1px;background:#5a5a5a;"></div>
<div class="r" style="left:195px;top:392px;width:8px;height:1px;background:#5a5a5a;"></div>
<div class="r" style="left:180px;top:400px;width:8px;height:1px;background:#5a5a5a;"></div>
<div class="r" style="left:195px;top:400px;width:8px;height:1px;background:#5a5a5a;"></div>
<div class="r" style="left:180px;top:408px;width:8px;height:1px;background:#5a5a5a;"></div>
<div class="r" style="left:195px;top:408px;width:8px;height:1px;background:#5a5a5a;"></div>
<div class="r" style="left:180px;top:416px;width:8px;height:1px;background:#5a5a5a;"></div>
<div class="r" style="left:195px;top:416px;width:8px;height:1px;background:#5a5a5a;"></div>
<div class="r" style="left:180px;top:424px;width:8px;height:1px;background:#5a5a5a;"></div>
<div class="r" style="left:195px;top:424px;width:8px;height:1px;background:#5a5a5a;"></div>
<div class="r" style="left:180px;top:432px;width:8px;height:1px;background:#5a5a5a;"></div>
<div class="r" style="left:195px;top:432px;width:8px;height:1px;background:#5a5a5a;"></div>
<div class="r" style="left:180px;top:440px;width:8px;height:1px;background:#5a5a5a;"></div>
<div class="r" style="left:195px;top:440px;width:8px;height:1px;background:#5a5a5a;"></div>
<div class="r" style="left:180px;top:448px;width:8px;height:1px;background:#5a5a5a;"></div>
<div class="r" style="left:195px;top:448px;width:8px;height:1px;background:#5a5a5a;"></div>
<div class="r" style="left:177px;top:456px;width:11px;height:1px;background:#5a5a5a;"></div>
<div class="r" style="left:195px;top:456px;width:11px;height:1px;background:#5a5a5a;"></div>
<div class="r" style="left:190px;top:291px;width:3px;height:171px;background:#7a7a7a;border:1px solid #000;box-sizing:border-box"></div>
<div class="r thumb" style="left:183px;top:369px"></div>
<div class="r" style="left:183px;top:385px;width:17px;height:1px;background:#000;"></div>
<div class="r sk" style="left:174px;top:482px;width:34px;height:16px;background:#fff"></div>
<div class="t f9_5" style="left:181px;top:486px;">-2.00</div>
<div class="r sk" style="left:174px;top:500px;width:34px;height:16px;background:#fff"></div>
<div class="t f9_5" style="left:185px;top:504px;">0.5</div>
<div class="r sk" style="left:174px;top:518px;width:34px;height:16px;background:#fff"></div>
<div class="t f9_5" style="left:184px;top:522px;">630</div>
<div class="t f9_5" style="left:176px;top:539px;letter-spacing:0.25px;">bypass</div>
<div class="r" style="left:210px;top:277px;width:2px;height:276px;background:#fff;border-left:1px solid #696969;box-sizing:border-box"></div>
<div class="r" style="left:237px;top:363px;width:5px;height:34px;background:#c8c8c8"></div>
<div class="r" style="left:224px;top:392px;width:18px;height:5px;background:#c8c8c8"></div>
<div class="r" style="left:215px;top:296px;width:11px;height:1px;background:#5a5a5a;"></div>
<div class="r" style="left:233px;top:296px;width:11px;height:1px;background:#5a5a5a;"></div>
<div class="r" style="left:218px;top:304px;width:8px;height:1px;background:#5a5a5a;"></div>
<div class="r" style="left:233px;top:304px;width:8px;height:1px;background:#5a5a5a;"></div>
<div class="r" style="left:218px;top:312px;width:8px;height:1px;background:#5a5a5a;"></div>
<div class="r" style="left:233px;top:312px;width:8px;height:1px;background:#5a5a5a;"></div>
<div class="r" style="left:218px;top:320px;width:8px;height:1px;background:#5a5a5a;"></div>
<div class="r" style="left:233px;top:320px;width:8px;height:1px;background:#5a5a5a;"></div>
<div class="r" style="left:218px;top:328px;width:8px;height:1px;background:#5a5a5a;"></div>
<div class="r" style="left:233px;top:328px;width:8px;height:1px;background:#5a5a5a;"></div>
<div class="r" style="left:218px;top:336px;width:8px;height:1px;background:#5a5a5a;"></div>
<div class="r" style="left:233px;top:336px;width:8px;height:1px;background:#5a5a5a;"></div>
<div class="r" style="left:218px;top:344px;width:8px;height:1px;background:#5a5a5a;"></div>
<div class="r" style="left:233px;top:344px;width:8px;height:1px;background:#5a5a5a;"></div>
<div class="r" style="left:218px;top:352px;width:8px;height:1px;background:#5a5a5a;"></div>
<div class="r" style="left:233px;top:352px;width:8px;height:1px;background:#5a5a5a;"></div>
<div class="r" style="left:218px;top:360px;width:8px;height:1px;background:#5a5a5a;"></div>
<div class="r" style="left:233px;top:360px;width:8px;height:1px;background:#5a5a5a;"></div>
<div class="r" style="left:218px;top:368px;width:8px;height:1px;background:#5a5a5a;"></div>
<div class="r" style="left:233px;top:368px;width:8px;height:1px;background:#5a5a5a;"></div>
<div class="r" style="left:215px;top:376px;width:11px;height:1px;background:#5a5a5a;"></div>
<div class="r" style="left:233px;top:376px;width:11px;height:1px;background:#5a5a5a;"></div>
<div class="r" style="left:218px;top:384px;width:8px;height:1px;background:#5a5a5a;"></div>
<div class="r" style="left:233px;top:384px;width:8px;height:1px;background:#5a5a5a;"></div>
<div class="r" style="left:218px;top:392px;width:8px;height:1px;background:#5a5a5a;"></div>
<div class="r" style="left:233px;top:392px;width:8px;height:1px;background:#5a5a5a;"></div>
<div class="r" style="left:218px;top:400px;width:8px;height:1px;background:#5a5a5a;"></div>
<div class="r" style="left:233px;top:400px;width:8px;height:1px;background:#5a5a5a;"></div>
<div class="r" style="left:218px;top:408px;width:8px;height:1px;background:#5a5a5a;"></div>
<div class="r" style="left:233px;top:408px;width:8px;height:1px;background:#5a5a5a;"></div>
<div class="r" style="left:218px;top:416px;width:8px;height:1px;background:#5a5a5a;"></div>
<div class="r" style="left:233px;top:416px;width:8px;height:1px;background:#5a5a5a;"></div>
<div class="r" style="left:218px;top:424px;width:8px;height:1px;background:#5a5a5a;"></div>
<div class="r" style="left:233px;top:424px;width:8px;height:1px;background:#5a5a5a;"></div>
<div class="r" style="left:218px;top:432px;width:8px;height:1px;background:#5a5a5a;"></div>
<div class="r" style="left:233px;top:432px;width:8px;height:1px;background:#5a5a5a;"></div>
<div class="r" style="left:218px;top:440px;width:8px;height:1px;background:#5a5a5a;"></div>
<div class="r" style="left:233px;top:440px;width:8px;height:1px;background:#5a5a5a;"></div>
<div class="r" style="left:218px;top:448px;width:8px;height:1px;background:#5a5a5a;"></div>
<div class="r" style="left:233px;top:448px;width:8px;height:1px;background:#5a5a5a;"></div>
<div class="r" style="left:215px;top:456px;width:11px;height:1px;background:#5a5a5a;"></div>
<div class="r" style="left:233px;top:456px;width:11px;height:1px;background:#5a5a5a;"></div>
<div class="r" style="left:228px;top:291px;width:3px;height:171px;background:#7a7a7a;border:1px solid #000;box-sizing:border-box"></div>
<div class="r thumb" style="left:221px;top:360px"></div>
<div class="r" style="left:221px;top:376px;width:17px;height:1px;background:#000;"></div>
<div class="r sk" style="left:212px;top:482px;width:34px;height:16px;background:#fff"></div>
<div class="t f9_5" style="left:220px;top:486px;">0.00</div>
<div class="r sk" style="left:212px;top:500px;width:34px;height:16px;background:#fff"></div>
<div class="t f9_5" style="left:223px;top:504px;">2.0</div>
<div class="r sk" style="left:212px;top:518px;width:34px;height:16px;background:#fff"></div>
<div class="t f9_5" style="left:215px;top:522px;">157.49</div>
<div class="t f9_5" style="left:215px;top:540px;letter-spacing:0.25px;color:#bb0f18;">bypass</div>
<div class="r" style="left:248px;top:277px;width:2px;height:276px;background:#fff;border-left:1px solid #696969;box-sizing:border-box"></div>
<div class="r" style="left:275px;top:372px;width:5px;height:34px;background:#c8c8c8"></div>
<div class="r" style="left:262px;top:401px;width:18px;height:5px;background:#c8c8c8"></div>
<div class="r" style="left:253px;top:296px;width:11px;height:1px;background:#5a5a5a;"></div>
<div class="r" style="left:271px;top:296px;width:11px;height:1px;background:#5a5a5a;"></div>
<div class="r" style="left:256px;top:304px;width:8px;height:1px;background:#5a5a5a;"></div>
<div class="r" style="left:271px;top:304px;width:8px;height:1px;background:#5a5a5a;"></div>
<div class="r" style="left:256px;top:312px;width:8px;height:1px;background:#5a5a5a;"></div>
<div class="r" style="left:271px;top:312px;width:8px;height:1px;background:#5a5a5a;"></div>
<div class="r" style="left:256px;top:320px;width:8px;height:1px;background:#5a5a5a;"></div>
<div class="r" style="left:271px;top:320px;width:8px;height:1px;background:#5a5a5a;"></div>
<div class="r" style="left:256px;top:328px;width:8px;height:1px;background:#5a5a5a;"></div>
<div class="r" style="left:271px;top:328px;width:8px;height:1px;background:#5a5a5a;"></div>
<div class="r" style="left:256px;top:336px;width:8px;height:1px;background:#5a5a5a;"></div>
<div class="r" style="left:271px;top:336px;width:8px;height:1px;background:#5a5a5a;"></div>
<div class="r" style="left:256px;top:344px;width:8px;height:1px;background:#5a5a5a;"></div>
<div class="r" style="left:271px;top:344px;width:8px;height:1px;background:#5a5a5a;"></div>
<div class="r" style="left:256px;top:352px;width:8px;height:1px;background:#5a5a5a;"></div>
<div class="r" style="left:271px;top:352px;width:8px;height:1px;background:#5a5a5a;"></div>
<div class="r" style="left:256px;top:360px;width:8px;height:1px;background:#5a5a5a;"></div>
<div class="r" style="left:271px;top:360px;width:8px;height:1px;background:#5a5a5a;"></div>
<div class="r" style="left:256px;top:368px;width:8px;height:1px;background:#5a5a5a;"></div>
<div class="r" style="left:271px;top:368px;width:8px;height:1px;background:#5a5a5a;"></div>
<div class="r" style="left:253px;top:376px;width:11px;height:1px;background:#5a5a5a;"></div>
<div class="r" style="left:271px;top:376px;width:11px;height:1px;background:#5a5a5a;"></div>
<div class="r" style="left:256px;top:384px;width:8px;height:1px;background:#5a5a5a;"></div>
<div class="r" style="left:271px;top:384px;width:8px;height:1px;background:#5a5a5a;"></div>
<div class="r" style="left:256px;top:392px;width:8px;height:1px;background:#5a5a5a;"></div>
<div class="r" style="left:271px;top:392px;width:8px;height:1px;background:#5a5a5a;"></div>
<div class="r" style="left:256px;top:400px;width:8px;height:1px;background:#5a5a5a;"></div>
<div class="r" style="left:271px;top:400px;width:8px;height:1px;background:#5a5a5a;"></div>
<div class="r" style="left:256px;top:408px;width:8px;height:1px;background:#5a5a5a;"></div>
<div class="r" style="left:271px;top:408px;width:8px;height:1px;background:#5a5a5a;"></div>
<div class="r" style="left:256px;top:416px;width:8px;height:1px;background:#5a5a5a;"></div>
<div class="r" style="left:271px;top:416px;width:8px;height:1px;background:#5a5a5a;"></div>
<div class="r" style="left:256px;top:424px;width:8px;height:1px;background:#5a5a5a;"></div>
<div class="r" style="left:271px;top:424px;width:8px;height:1px;background:#5a5a5a;"></div>
<div class="r" style="left:256px;top:432px;width:8px;height:1px;background:#5a5a5a;"></div>
<div class="r" style="left:271px;top:432px;width:8px;height:1px;background:#5a5a5a;"></div>
<div class="r" style="left:256px;top:440px;width:8px;height:1px;background:#5a5a5a;"></div>
<div class="r" style="left:271px;top:440px;width:8px;height:1px;background:#5a5a5a;"></div>
<div class="r" style="left:256px;top:448px;width:8px;height:1px;background:#5a5a5a;"></div>
<div class="r" style="left:271px;top:448px;width:8px;height:1px;background:#5a5a5a;"></div>
<div class="r" style="left:253px;top:456px;width:11px;height:1px;background:#5a5a5a;"></div>
<div class="r" style="left:271px;top:456px;width:11px;height:1px;background:#5a5a5a;"></div>
<div class="r" style="left:266px;top:291px;width:3px;height:171px;background:#7a7a7a;border:1px solid #000;box-sizing:border-box"></div>
<div class="r thumb" style="left:259px;top:369px"></div>
<div class="r" style="left:259px;top:385px;width:17px;height:1px;background:#000;"></div>
<div class="r sk" style="left:250px;top:482px;width:34px;height:16px;background:#fff"></div>
<div class="t f9_5" style="left:257px;top:486px;">-2.00</div>
<div class="r sk" style="left:250px;top:500px;width:34px;height:16px;background:#fff"></div>
<div class="t f9_5" style="left:261px;top:504px;">0.5</div>
<div class="r sk" style="left:250px;top:518px;width:34px;height:16px;background:#fff"></div>
<div class="t f9_5" style="left:257px;top:522px;">2645</div>
<div class="t f9_5" style="left:252px;top:539px;letter-spacing:0.25px;">bypass</div>
<div class="r" style="left:286px;top:277px;width:2px;height:276px;background:#fff;border-left:1px solid #696969;box-sizing:border-box"></div>
<div class="r" style="left:313px;top:363px;width:5px;height:34px;background:#c8c8c8"></div>
<div class="r" style="left:300px;top:392px;width:18px;height:5px;background:#c8c8c8"></div>
<div class="r" style="left:291px;top:296px;width:11px;height:1px;background:#5a5a5a;"></div>
<div class="r" style="left:309px;top:296px;width:11px;height:1px;background:#5a5a5a;"></div>
<div class="r" style="left:294px;top:304px;width:8px;height:1px;background:#5a5a5a;"></div>
<div class="r" style="left:309px;top:304px;width:8px;height:1px;background:#5a5a5a;"></div>
<div class="r" style="left:294px;top:312px;width:8px;height:1px;background:#5a5a5a;"></div>
<div class="r" style="left:309px;top:312px;width:8px;height:1px;background:#5a5a5a;"></div>
<div class="r" style="left:294px;top:320px;width:8px;height:1px;background:#5a5a5a;"></div>
<div class="r" style="left:309px;top:320px;width:8px;height:1px;background:#5a5a5a;"></div>
<div class="r" style="left:294px;top:328px;width:8px;height:1px;background:#5a5a5a;"></div>
<div class="r" style="left:309px;top:328px;width:8px;height:1px;background:#5a5a5a;"></div>
<div class="r" style="left:294px;top:336px;width:8px;height:1px;background:#5a5a5a;"></div>
<div class="r" style="left:309px;top:336px;width:8px;height:1px;background:#5a5a5a;"></div>
<div class="r" style="left:294px;top:344px;width:8px;height:1px;background:#5a5a5a;"></div>
<div class="r" style="left:309px;top:344px;width:8px;height:1px;background:#5a5a5a;"></div>
<div class="r" style="left:294px;top:352px;width:8px;height:1px;background:#5a5a5a;"></div>
<div class="r" style="left:309px;top:352px;width:8px;height:1px;background:#5a5a5a;"></div>
<div class="r" style="left:294px;top:360px;width:8px;height:1px;background:#5a5a5a;"></div>
<div class="r" style="left:309px;top:360px;width:8px;height:1px;background:#5a5a5a;"></div>
<div class="r" style="left:294px;top:368px;width:8px;height:1px;background:#5a5a5a;"></div>
<div class="r" style="left:309px;top:368px;width:8px;height:1px;background:#5a5a5a;"></div>
<div class="r" style="left:291px;top:376px;width:11px;height:1px;background:#5a5a5a;"></div>
<div class="r" style="left:309px;top:376px;width:11px;height:1px;background:#5a5a5a;"></div>
<div class="r" style="left:294px;top:384px;width:8px;height:1px;background:#5a5a5a;"></div>
<div class="r" style="left:309px;top:384px;width:8px;height:1px;background:#5a5a5a;"></div>
<div class="r" style="left:294px;top:392px;width:8px;height:1px;background:#5a5a5a;"></div>
<div class="r" style="left:309px;top:392px;width:8px;height:1px;background:#5a5a5a;"></div>
<div class="r" style="left:294px;top:400px;width:8px;height:1px;background:#5a5a5a;"></div>
<div class="r" style="left:309px;top:400px;width:8px;height:1px;background:#5a5a5a;"></div>
<div class="r" style="left:294px;top:408px;width:8px;height:1px;background:#5a5a5a;"></div>
<div class="r" style="left:309px;top:408px;width:8px;height:1px;background:#5a5a5a;"></div>
<div class="r" style="left:294px;top:416px;width:8px;height:1px;background:#5a5a5a;"></div>
<div class="r" style="left:309px;top:416px;width:8px;height:1px;background:#5a5a5a;"></div>
<div class="r" style="left:294px;top:424px;width:8px;height:1px;background:#5a5a5a;"></div>
<div class="r" style="left:309px;top:424px;width:8px;height:1px;background:#5a5a5a;"></div>
<div class="r" style="left:294px;top:432px;width:8px;height:1px;background:#5a5a5a;"></div>
<div class="r" style="left:309px;top:432px;width:8px;height:1px;background:#5a5a5a;"></div>
<div class="r" style="left:294px;top:440px;width:8px;height:1px;background:#5a5a5a;"></div>
<div class="r" style="left:309px;top:440px;width:8px;height:1px;background:#5a5a5a;"></div>
<div class="r" style="left:294px;top:448px;width:8px;height:1px;background:#5a5a5a;"></div>
<div class="r" style="left:309px;top:448px;width:8px;height:1px;background:#5a5a5a;"></div>
<div class="r" style="left:291px;top:456px;width:11px;height:1px;background:#5a5a5a;"></div>
<div class="r" style="left:309px;top:456px;width:11px;height:1px;background:#5a5a5a;"></div>
<div class="r" style="left:304px;top:291px;width:3px;height:171px;background:#7a7a7a;border:1px solid #000;box-sizing:border-box"></div>
<div class="r thumb" style="left:297px;top:360px"></div>
<div class="r" style="left:297px;top:376px;width:17px;height:1px;background:#000;"></div>
<div class="r sk" style="left:288px;top:482px;width:34px;height:16px;background:#fff"></div>
<div class="t f9_5" style="left:296px;top:486px;">0.00</div>
<div class="r sk" style="left:288px;top:500px;width:34px;height:16px;background:#fff"></div>
<div class="t f9_5" style="left:299px;top:504px;">2.0</div>
<div class="r sk" style="left:288px;top:518px;width:34px;height:16px;background:#fff"></div>
<div class="t f9_5" style="left:291px;top:522px;">396.85</div>
<div class="t f9_5" style="left:291px;top:540px;letter-spacing:0.25px;color:#bb0f18;">bypass</div>
<div class="r" style="left:324px;top:277px;width:2px;height:276px;background:#fff;border-left:1px solid #696969;box-sizing:border-box"></div>
<div class="r" style="left:351px;top:363px;width:5px;height:34px;background:#c8c8c8"></div>
<div class="r" style="left:338px;top:392px;width:18px;height:5px;background:#c8c8c8"></div>
<div class="r" style="left:329px;top:296px;width:11px;height:1px;background:#5a5a5a;"></div>
<div class="r" style="left:347px;top:296px;width:11px;height:1px;background:#5a5a5a;"></div>
<div class="r" style="left:332px;top:304px;width:8px;height:1px;background:#5a5a5a;"></div>
<div class="r" style="left:347px;top:304px;width:8px;height:1px;background:#5a5a5a;"></div>
<div class="r" style="left:332px;top:312px;width:8px;height:1px;background:#5a5a5a;"></div>
<div class="r" style="left:347px;top:312px;width:8px;height:1px;background:#5a5a5a;"></div>
<div class="r" style="left:332px;top:320px;width:8px;height:1px;background:#5a5a5a;"></div>
<div class="r" style="left:347px;top:320px;width:8px;height:1px;background:#5a5a5a;"></div>
<div class="r" style="left:332px;top:328px;width:8px;height:1px;background:#5a5a5a;"></div>
<div class="r" style="left:347px;top:328px;width:8px;height:1px;background:#5a5a5a;"></div>
<div class="r" style="left:332px;top:336px;width:8px;height:1px;background:#5a5a5a;"></div>
<div class="r" style="left:347px;top:336px;width:8px;height:1px;background:#5a5a5a;"></div>
<div class="r" style="left:332px;top:344px;width:8px;height:1px;background:#5a5a5a;"></div>
<div class="r" style="left:347px;top:344px;width:8px;height:1px;background:#5a5a5a;"></div>
<div class="r" style="left:332px;top:352px;width:8px;height:1px;background:#5a5a5a;"></div>
<div class="r" style="left:347px;top:352px;width:8px;height:1px;background:#5a5a5a;"></div>
<div class="r" style="left:332px;top:360px;width:8px;height:1px;background:#5a5a5a;"></div>
<div class="r" style="left:347px;top:360px;width:8px;height:1px;background:#5a5a5a;"></div>
<div class="r" style="left:332px;top:368px;width:8px;height:1px;background:#5a5a5a;"></div>
<div class="r" style="left:347px;top:368px;width:8px;height:1px;background:#5a5a5a;"></div>
<div class="r" style="left:329px;top:376px;width:11px;height:1px;background:#5a5a5a;"></div>
<div class="r" style="left:347px;top:376px;width:11px;height:1px;background:#5a5a5a;"></div>
<div class="r" style="left:332px;top:384px;width:8px;height:1px;background:#5a5a5a;"></div>
<div class="r" style="left:347px;top:384px;width:8px;height:1px;background:#5a5a5a;"></div>
<div class="r" style="left:332px;top:392px;width:8px;height:1px;background:#5a5a5a;"></div>
<div class="r" style="left:347px;top:392px;width:8px;height:1px;background:#5a5a5a;"></div>
<div class="r" style="left:332px;top:400px;width:8px;height:1px;background:#5a5a5a;"></div>
<div class="r" style="left:347px;top:400px;width:8px;height:1px;background:#5a5a5a;"></div>
<div class="r" style="left:332px;top:408px;width:8px;height:1px;background:#5a5a5a;"></div>
<div class="r" style="left:347px;top:408px;width:8px;height:1px;background:#5a5a5a;"></div>
<div class="r" style="left:332px;top:416px;width:8px;height:1px;background:#5a5a5a;"></div>
<div class="r" style="left:347px;top:416px;width:8px;height:1px;background:#5a5a5a;"></div>
<div class="r" style="left:332px;top:424px;width:8px;height:1px;background:#5a5a5a;"></div>
<div class="r" style="left:347px;top:424px;width:8px;height:1px;background:#5a5a5a;"></div>
<div class="r" style="left:332px;top:432px;width:8px;height:1px;background:#5a5a5a;"></div>
<div class="r" style="left:347px;top:432px;width:8px;height:1px;background:#5a5a5a;"></div>
<div class="r" style="left:332px;top:440px;width:8px;height:1px;background:#5a5a5a;"></div>
<div class="r" style="left:347px;top:440px;width:8px;height:1px;background:#5a5a5a;"></div>
<div class="r" style="left:332px;top:448px;width:8px;height:1px;background:#5a5a5a;"></div>
<div class="r" style="left:347px;top:448px;width:8px;height:1px;background:#5a5a5a;"></div>
<div class="r" style="left:329px;top:456px;width:11px;height:1px;background:#5a5a5a;"></div>
<div class="r" style="left:347px;top:456px;width:11px;height:1px;background:#5a5a5a;"></div>
<div class="r" style="left:342px;top:291px;width:3px;height:171px;background:#7a7a7a;border:1px solid #000;box-sizing:border-box"></div>
<div class="r thumb" style="left:335px;top:360px"></div>
<div class="r" style="left:335px;top:376px;width:17px;height:1px;background:#000;"></div>
<div class="r sk" style="left:326px;top:482px;width:34px;height:16px;background:#fff"></div>
<div class="t f9_5" style="left:334px;top:486px;">0.00</div>
<div class="r sk" style="left:326px;top:500px;width:34px;height:16px;background:#fff"></div>
<div class="t f9_5" style="left:337px;top:504px;">2.0</div>
<div class="r sk" style="left:326px;top:518px;width:34px;height:16px;background:#fff"></div>
<div class="t f9_5" style="left:329px;top:522px;">629.96</div>
<div class="t f9_5" style="left:329px;top:540px;letter-spacing:0.25px;color:#bb0f18;">bypass</div>
<div class="r" style="left:362px;top:277px;width:2px;height:276px;background:#fff;border-left:1px solid #696969;box-sizing:border-box"></div>
<div class="r" style="left:389px;top:363px;width:5px;height:34px;background:#c8c8c8"></div>
<div class="r" style="left:376px;top:392px;width:18px;height:5px;background:#c8c8c8"></div>
<div class="r" style="left:367px;top:296px;width:11px;height:1px;background:#5a5a5a;"></div>
<div class="r" style="left:385px;top:296px;width:11px;height:1px;background:#5a5a5a;"></div>
<div class="r" style="left:370px;top:304px;width:8px;height:1px;background:#5a5a5a;"></div>
<div class="r" style="left:385px;top:304px;width:8px;height:1px;background:#5a5a5a;"></div>
<div class="r" style="left:370px;top:312px;width:8px;height:1px;background:#5a5a5a;"></div>
<div class="r" style="left:385px;top:312px;width:8px;height:1px;background:#5a5a5a;"></div>
<div class="r" style="left:370px;top:320px;width:8px;height:1px;background:#5a5a5a;"></div>
<div class="r" style="left:385px;top:320px;width:8px;height:1px;background:#5a5a5a;"></div>
<div class="r" style="left:370px;top:328px;width:8px;height:1px;background:#5a5a5a;"></div>
<div class="r" style="left:385px;top:328px;width:8px;height:1px;background:#5a5a5a;"></div>
<div class="r" style="left:370px;top:336px;width:8px;height:1px;background:#5a5a5a;"></div>
<div class="r" style="left:385px;top:336px;width:8px;height:1px;background:#5a5a5a;"></div>
<div class="r" style="left:370px;top:344px;width:8px;height:1px;background:#5a5a5a;"></div>
<div class="r" style="left:385px;top:344px;width:8px;height:1px;background:#5a5a5a;"></div>
<div class="r" style="left:370px;top:352px;width:8px;height:1px;background:#5a5a5a;"></div>
<div class="r" style="left:385px;top:352px;width:8px;height:1px;background:#5a5a5a;"></div>
<div class="r" style="left:370px;top:360px;width:8px;height:1px;background:#5a5a5a;"></div>
<div class="r" style="left:385px;top:360px;width:8px;height:1px;background:#5a5a5a;"></div>
<div class="r" style="left:370px;top:368px;width:8px;height:1px;background:#5a5a5a;"></div>
<div class="r" style="left:385px;top:368px;width:8px;height:1px;background:#5a5a5a;"></div>
<div class="r" style="left:367px;top:376px;width:11px;height:1px;background:#5a5a5a;"></div>
<div class="r" style="left:385px;top:376px;width:11px;height:1px;background:#5a5a5a;"></div>
<div class="r" style="left:370px;top:384px;width:8px;height:1px;background:#5a5a5a;"></div>
<div class="r" style="left:385px;top:384px;width:8px;height:1px;background:#5a5a5a;"></div>
<div class="r" style="left:370px;top:392px;width:8px;height:1px;background:#5a5a5a;"></div>
<div class="r" style="left:385px;top:392px;width:8px;height:1px;background:#5a5a5a;"></div>
<div class="r" style="left:370px;top:400px;width:8px;height:1px;background:#5a5a5a;"></div>
<div class="r" style="left:385px;top:400px;width:8px;height:1px;background:#5a5a5a;"></div>
<div class="r" style="left:370px;top:408px;width:8px;height:1px;background:#5a5a5a;"></div>
<div class="r" style="left:385px;top:408px;width:8px;height:1px;background:#5a5a5a;"></div>
<div class="r" style="left:370px;top:416px;width:8px;height:1px;background:#5a5a5a;"></div>
<div class="r" style="left:385px;top:416px;width:8px;height:1px;background:#5a5a5a;"></div>
<div class="r" style="left:370px;top:424px;width:8px;height:1px;background:#5a5a5a;"></div>
<div class="r" style="left:385px;top:424px;width:8px;height:1px;background:#5a5a5a;"></div>
<div class="r" style="left:370px;top:432px;width:8px;height:1px;background:#5a5a5a;"></div>
<div class="r" style="left:385px;top:432px;width:8px;height:1px;background:#5a5a5a;"></div>
<div class="r" style="left:370px;top:440px;width:8px;height:1px;background:#5a5a5a;"></div>
<div class="r" style="left:385px;top:440px;width:8px;height:1px;background:#5a5a5a;"></div>
<div class="r" style="left:370px;top:448px;width:8px;height:1px;background:#5a5a5a;"></div>
<div class="r" style="left:385px;top:448px;width:8px;height:1px;background:#5a5a5a;"></div>
<div class="r" style="left:367px;top:456px;width:11px;height:1px;background:#5a5a5a;"></div>
<div class="r" style="left:385px;top:456px;width:11px;height:1px;background:#5a5a5a;"></div>
<div class="r" style="left:380px;top:291px;width:3px;height:171px;background:#7a7a7a;border:1px solid #000;box-sizing:border-box"></div>
<div class="r thumb" style="left:373px;top:360px"></div>
<div class="r" style="left:373px;top:376px;width:17px;height:1px;background:#000;"></div>
<div class="r sk" style="left:364px;top:482px;width:34px;height:16px;background:#fff"></div>
<div class="t f9_5" style="left:372px;top:486px;">0.00</div>
<div class="r sk" style="left:364px;top:500px;width:34px;height:16px;background:#fff"></div>
<div class="t f9_5" style="left:375px;top:504px;">2.0</div>
<div class="r sk" style="left:364px;top:518px;width:34px;height:16px;background:#fff"></div>
<div class="t f9_5" style="left:371px;top:522px;">1000</div>
<div class="t f9_5" style="left:367px;top:540px;letter-spacing:0.25px;color:#bb0f18;">bypass</div>
<div class="r" style="left:400px;top:277px;width:2px;height:276px;background:#fff;border-left:1px solid #696969;box-sizing:border-box"></div>
<div class="r" style="left:427px;top:363px;width:5px;height:34px;background:#c8c8c8"></div>
<div class="r" style="left:414px;top:392px;width:18px;height:5px;background:#c8c8c8"></div>
<div class="r" style="left:405px;top:296px;width:11px;height:1px;background:#5a5a5a;"></div>
<div class="r" style="left:423px;top:296px;width:11px;height:1px;background:#5a5a5a;"></div>
<div class="r" style="left:408px;top:304px;width:8px;height:1px;background:#5a5a5a;"></div>
<div class="r" style="left:423px;top:304px;width:8px;height:1px;background:#5a5a5a;"></div>
<div class="r" style="left:408px;top:312px;width:8px;height:1px;background:#5a5a5a;"></div>
<div class="r" style="left:423px;top:312px;width:8px;height:1px;background:#5a5a5a;"></div>
<div class="r" style="left:408px;top:320px;width:8px;height:1px;background:#5a5a5a;"></div>
<div class="r" style="left:423px;top:320px;width:8px;height:1px;background:#5a5a5a;"></div>
<div class="r" style="left:408px;top:328px;width:8px;height:1px;background:#5a5a5a;"></div>
<div class="r" style="left:423px;top:328px;width:8px;height:1px;background:#5a5a5a;"></div>
<div class="r" style="left:408px;top:336px;width:8px;height:1px;background:#5a5a5a;"></div>
<div class="r" style="left:423px;top:336px;width:8px;height:1px;background:#5a5a5a;"></div>
<div class="r" style="left:408px;top:344px;width:8px;height:1px;background:#5a5a5a;"></div>
<div class="r" style="left:423px;top:344px;width:8px;height:1px;background:#5a5a5a;"></div>
<div class="r" style="left:408px;top:352px;width:8px;height:1px;background:#5a5a5a;"></div>
<div class="r" style="left:423px;top:352px;width:8px;height:1px;background:#5a5a5a;"></div>
<div class="r" style="left:408px;top:360px;width:8px;height:1px;background:#5a5a5a;"></div>
<div class="r" style="left:423px;top:360px;width:8px;height:1px;background:#5a5a5a;"></div>
<div class="r" style="left:408px;top:368px;width:8px;height:1px;background:#5a5a5a;"></div>
<div class="r" style="left:423px;top:368px;width:8px;height:1px;background:#5a5a5a;"></div>
<div class="r" style="left:405px;top:376px;width:11px;height:1px;background:#5a5a5a;"></div>
<div class="r" style="left:423px;top:376px;width:11px;height:1px;background:#5a5a5a;"></div>
<div class="r" style="left:408px;top:384px;width:8px;height:1px;background:#5a5a5a;"></div>
<div class="r" style="left:423px;top:384px;width:8px;height:1px;background:#5a5a5a;"></div>
<div class="r" style="left:408px;top:392px;width:8px;height:1px;background:#5a5a5a;"></div>
<div class="r" style="left:423px;top:392px;width:8px;height:1px;background:#5a5a5a;"></div>
<div class="r" style="left:408px;top:400px;width:8px;height:1px;background:#5a5a5a;"></div>
<div class="r" style="left:423px;top:400px;width:8px;height:1px;background:#5a5a5a;"></div>
<div class="r" style="left:408px;top:408px;width:8px;height:1px;background:#5a5a5a;"></div>
<div class="r" style="left:423px;top:408px;width:8px;height:1px;background:#5a5a5a;"></div>
<div class="r" style="left:408px;top:416px;width:8px;height:1px;background:#5a5a5a;"></div>
<div class="r" style="left:423px;top:416px;width:8px;height:1px;background:#5a5a5a;"></div>
<div class="r" style="left:408px;top:424px;width:8px;height:1px;background:#5a5a5a;"></div>
<div class="r" style="left:423px;top:424px;width:8px;height:1px;background:#5a5a5a;"></div>
<div class="r" style="left:408px;top:432px;width:8px;height:1px;background:#5a5a5a;"></div>
<div class="r" style="left:423px;top:432px;width:8px;height:1px;background:#5a5a5a;"></div>
<div class="r" style="left:408px;top:440px;width:8px;height:1px;background:#5a5a5a;"></div>
<div class="r" style="left:423px;top:440px;width:8px;height:1px;background:#5a5a5a;"></div>
<div class="r" style="left:408px;top:448px;width:8px;height:1px;background:#5a5a5a;"></div>
<div class="r" style="left:423px;top:448px;width:8px;height:1px;background:#5a5a5a;"></div>
<div class="r" style="left:405px;top:456px;width:11px;height:1px;background:#5a5a5a;"></div>
<div class="r" style="left:423px;top:456px;width:11px;height:1px;background:#5a5a5a;"></div>
<div class="r" style="left:418px;top:291px;width:3px;height:171px;background:#7a7a7a;border:1px solid #000;box-sizing:border-box"></div>
<div class="r thumb" style="left:411px;top:360px"></div>
<div class="r" style="left:411px;top:376px;width:17px;height:1px;background:#000;"></div>
<div class="r sk" style="left:402px;top:482px;width:34px;height:16px;background:#fff"></div>
<div class="t f9_5" style="left:410px;top:486px;">0.00</div>
<div class="r sk" style="left:402px;top:500px;width:34px;height:16px;background:#fff"></div>
<div class="t f9_5" style="left:413px;top:504px;">2.0</div>
<div class="r sk" style="left:402px;top:518px;width:34px;height:16px;background:#fff"></div>
<div class="t f9_5" style="left:405px;top:522px;">1587.4</div>
<div class="t f9_5" style="left:405px;top:540px;letter-spacing:0.25px;color:#bb0f18;">bypass</div>
<div class="r" style="left:438px;top:277px;width:2px;height:276px;background:#fff;border-left:1px solid #696969;box-sizing:border-box"></div>
<div class="r" style="left:465px;top:363px;width:5px;height:34px;background:#c8c8c8"></div>
<div class="r" style="left:452px;top:392px;width:18px;height:5px;background:#c8c8c8"></div>
<div class="r" style="left:443px;top:296px;width:11px;height:1px;background:#5a5a5a;"></div>
<div class="r" style="left:461px;top:296px;width:11px;height:1px;background:#5a5a5a;"></div>
<div class="r" style="left:446px;top:304px;width:8px;height:1px;background:#5a5a5a;"></div>
<div class="r" style="left:461px;top:304px;width:8px;height:1px;background:#5a5a5a;"></div>
<div class="r" style="left:446px;top:312px;width:8px;height:1px;background:#5a5a5a;"></div>
<div class="r" style="left:461px;top:312px;width:8px;height:1px;background:#5a5a5a;"></div>
<div class="r" style="left:446px;top:320px;width:8px;height:1px;background:#5a5a5a;"></div>
<div class="r" style="left:461px;top:320px;width:8px;height:1px;background:#5a5a5a;"></div>
<div class="r" style="left:446px;top:328px;width:8px;height:1px;background:#5a5a5a;"></div>
<div class="r" style="left:461px;top:328px;width:8px;height:1px;background:#5a5a5a;"></div>
<div class="r" style="left:446px;top:336px;width:8px;height:1px;background:#5a5a5a;"></div>
<div class="r" style="left:461px;top:336px;width:8px;height:1px;background:#5a5a5a;"></div>
<div class="r" style="left:446px;top:344px;width:8px;height:1px;background:#5a5a5a;"></div>
<div class="r" style="left:461px;top:344px;width:8px;height:1px;background:#5a5a5a;"></div>
<div class="r" style="left:446px;top:352px;width:8px;height:1px;background:#5a5a5a;"></div>
<div class="r" style="left:461px;top:352px;width:8px;height:1px;background:#5a5a5a;"></div>
<div class="r" style="left:446px;top:360px;width:8px;height:1px;background:#5a5a5a;"></div>
<div class="r" style="left:461px;top:360px;width:8px;height:1px;background:#5a5a5a;"></div>
<div class="r" style="left:446px;top:368px;width:8px;height:1px;background:#5a5a5a;"></div>
<div class="r" style="left:461px;top:368px;width:8px;height:1px;background:#5a5a5a;"></div>
<div class="r" style="left:443px;top:376px;width:11px;height:1px;background:#5a5a5a;"></div>
<div class="r" style="left:461px;top:376px;width:11px;height:1px;background:#5a5a5a;"></div>
<div class="r" style="left:446px;top:384px;width:8px;height:1px;background:#5a5a5a;"></div>
<div class="r" style="left:461px;top:384px;width:8px;height:1px;background:#5a5a5a;"></div>
<div class="r" style="left:446px;top:392px;width:8px;height:1px;background:#5a5a5a;"></div>
<div class="r" style="left:461px;top:392px;width:8px;height:1px;background:#5a5a5a;"></div>
<div class="r" style="left:446px;top:400px;width:8px;height:1px;background:#5a5a5a;"></div>
<div class="r" style="left:461px;top:400px;width:8px;height:1px;background:#5a5a5a;"></div>
<div class="r" style="left:446px;top:408px;width:8px;height:1px;background:#5a5a5a;"></div>
<div class="r" style="left:461px;top:408px;width:8px;height:1px;background:#5a5a5a;"></div>
<div class="r" style="left:446px;top:416px;width:8px;height:1px;background:#5a5a5a;"></div>
<div class="r" style="left:461px;top:416px;width:8px;height:1px;background:#5a5a5a;"></div>
<div class="r" style="left:446px;top:424px;width:8px;height:1px;background:#5a5a5a;"></div>
<div class="r" style="left:461px;top:424px;width:8px;height:1px;background:#5a5a5a;"></div>
<div class="r" style="left:446px;top:432px;width:8px;height:1px;background:#5a5a5a;"></div>
<div class="r" style="left:461px;top:432px;width:8px;height:1px;background:#5a5a5a;"></div>
<div class="r" style="left:446px;top:440px;width:8px;height:1px;background:#5a5a5a;"></div>
<div class="r" style="left:461px;top:440px;width:8px;height:1px;background:#5a5a5a;"></div>
<div class="r" style="left:446px;top:448px;width:8px;height:1px;background:#5a5a5a;"></div>
<div class="r" style="left:461px;top:448px;width:8px;height:1px;background:#5a5a5a;"></div>
<div class="r" style="left:443px;top:456px;width:11px;height:1px;background:#5a5a5a;"></div>
<div class="r" style="left:461px;top:456px;width:11px;height:1px;background:#5a5a5a;"></div>
<div class="r" style="left:456px;top:291px;width:3px;height:171px;background:#7a7a7a;border:1px solid #000;box-sizing:border-box"></div>
<div class="r thumb" style="left:449px;top:360px"></div>
<div class="r" style="left:449px;top:376px;width:17px;height:1px;background:#000;"></div>
<div class="r sk" style="left:440px;top:482px;width:34px;height:16px;background:#fff"></div>
<div class="t f9_5" style="left:448px;top:486px;">0.00</div>
<div class="r sk" style="left:440px;top:500px;width:34px;height:16px;background:#fff"></div>
<div class="t f9_5" style="left:451px;top:504px;">2.0</div>
<div class="r sk" style="left:440px;top:518px;width:34px;height:16px;background:#fff"></div>
<div class="t f9_5" style="left:443px;top:522px;">2519.8</div>
<div class="t f9_5" style="left:443px;top:540px;letter-spacing:0.25px;color:#bb0f18;">bypass</div>
<div class="r" style="left:476px;top:277px;width:2px;height:276px;background:#fff;border-left:1px solid #696969;box-sizing:border-box"></div>
<div class="r" style="left:503px;top:363px;width:5px;height:34px;background:#c8c8c8"></div>
<div class="r" style="left:490px;top:392px;width:18px;height:5px;background:#c8c8c8"></div>
<div class="r" style="left:481px;top:296px;width:11px;height:1px;background:#5a5a5a;"></div>
<div class="r" style="left:499px;top:296px;width:11px;height:1px;background:#5a5a5a;"></div>
<div class="r" style="left:484px;top:304px;width:8px;height:1px;background:#5a5a5a;"></div>
<div class="r" style="left:499px;top:304px;width:8px;height:1px;background:#5a5a5a;"></div>
<div class="r" style="left:484px;top:312px;width:8px;height:1px;background:#5a5a5a;"></div>
<div class="r" style="left:499px;top:312px;width:8px;height:1px;background:#5a5a5a;"></div>
<div class="r" style="left:484px;top:320px;width:8px;height:1px;background:#5a5a5a;"></div>
<div class="r" style="left:499px;top:320px;width:8px;height:1px;background:#5a5a5a;"></div>
<div class="r" style="left:484px;top:328px;width:8px;height:1px;background:#5a5a5a;"></div>
<div class="r" style="left:499px;top:328px;width:8px;height:1px;background:#5a5a5a;"></div>
<div class="r" style="left:484px;top:336px;width:8px;height:1px;background:#5a5a5a;"></div>
<div class="r" style="left:499px;top:336px;width:8px;height:1px;background:#5a5a5a;"></div>
<div class="r" style="left:484px;top:344px;width:8px;height:1px;background:#5a5a5a;"></div>
<div class="r" style="left:499px;top:344px;width:8px;height:1px;background:#5a5a5a;"></div>
<div class="r" style="left:484px;top:352px;width:8px;height:1px;background:#5a5a5a;"></div>
<div class="r" style="left:499px;top:352px;width:8px;height:1px;background:#5a5a5a;"></div>
<div class="r" style="left:484px;top:360px;width:8px;height:1px;background:#5a5a5a;"></div>
<div class="r" style="left:499px;top:360px;width:8px;height:1px;background:#5a5a5a;"></div>
<div class="r" style="left:484px;top:368px;width:8px;height:1px;background:#5a5a5a;"></div>
<div class="r" style="left:499px;top:368px;width:8px;height:1px;background:#5a5a5a;"></div>
<div class="r" style="left:481px;top:376px;width:11px;height:1px;background:#5a5a5a;"></div>
<div class="r" style="left:499px;top:376px;width:11px;height:1px;background:#5a5a5a;"></div>
<div class="r" style="left:484px;top:384px;width:8px;height:1px;background:#5a5a5a;"></div>
<div class="r" style="left:499px;top:384px;width:8px;height:1px;background:#5a5a5a;"></div>
<div class="r" style="left:484px;top:392px;width:8px;height:1px;background:#5a5a5a;"></div>
<div class="r" style="left:499px;top:392px;width:8px;height:1px;background:#5a5a5a;"></div>
<div class="r" style="left:484px;top:400px;width:8px;height:1px;background:#5a5a5a;"></div>
<div class="r" style="left:499px;top:400px;width:8px;height:1px;background:#5a5a5a;"></div>
<div class="r" style="left:484px;top:408px;width:8px;height:1px;background:#5a5a5a;"></div>
<div class="r" style="left:499px;top:408px;width:8px;height:1px;background:#5a5a5a;"></div>
<div class="r" style="left:484px;top:416px;width:8px;height:1px;background:#5a5a5a;"></div>
<div class="r" style="left:499px;top:416px;width:8px;height:1px;background:#5a5a5a;"></div>
<div class="r" style="left:484px;top:424px;width:8px;height:1px;background:#5a5a5a;"></div>
<div class="r" style="left:499px;top:424px;width:8px;height:1px;background:#5a5a5a;"></div>
<div class="r" style="left:484px;top:432px;width:8px;height:1px;background:#5a5a5a;"></div>
<div class="r" style="left:499px;top:432px;width:8px;height:1px;background:#5a5a5a;"></div>
<div class="r" style="left:484px;top:440px;width:8px;height:1px;background:#5a5a5a;"></div>
<div class="r" style="left:499px;top:440px;width:8px;height:1px;background:#5a5a5a;"></div>
<div class="r" style="left:484px;top:448px;width:8px;height:1px;background:#5a5a5a;"></div>
<div class="r" style="left:499px;top:448px;width:8px;height:1px;background:#5a5a5a;"></div>
<div class="r" style="left:481px;top:456px;width:11px;height:1px;background:#5a5a5a;"></div>
<div class="r" style="left:499px;top:456px;width:11px;height:1px;background:#5a5a5a;"></div>
<div class="r" style="left:494px;top:291px;width:3px;height:171px;background:#7a7a7a;border:1px solid #000;box-sizing:border-box"></div>
<div class="r thumb" style="left:487px;top:360px"></div>
<div class="r" style="left:487px;top:376px;width:17px;height:1px;background:#000;"></div>
<div class="r sk" style="left:478px;top:482px;width:34px;height:16px;background:#fff"></div>
<div class="t f9_5" style="left:486px;top:486px;">0.00</div>
<div class="r sk" style="left:478px;top:500px;width:34px;height:16px;background:#fff"></div>
<div class="t f9_5" style="left:489px;top:504px;">2.0</div>
<div class="r sk" style="left:478px;top:518px;width:34px;height:16px;background:#fff"></div>
<div class="t f9_5" style="left:485px;top:522px;">4000</div>
<div class="t f9_5" style="left:481px;top:540px;letter-spacing:0.25px;color:#bb0f18;">bypass</div>
<div class="r" style="left:514px;top:277px;width:2px;height:276px;background:#fff;border-left:1px solid #696969;box-sizing:border-box"></div>
<div class="r" style="left:541px;top:363px;width:5px;height:34px;background:#c8c8c8"></div>
<div class="r" style="left:528px;top:392px;width:18px;height:5px;background:#c8c8c8"></div>
<div class="r" style="left:519px;top:296px;width:11px;height:1px;background:#5a5a5a;"></div>
<div class="r" style="left:537px;top:296px;width:11px;height:1px;background:#5a5a5a;"></div>
<div class="r" style="left:522px;top:304px;width:8px;height:1px;background:#5a5a5a;"></div>
<div class="r" style="left:537px;top:304px;width:8px;height:1px;background:#5a5a5a;"></div>
<div class="r" style="left:522px;top:312px;width:8px;height:1px;background:#5a5a5a;"></div>
<div class="r" style="left:537px;top:312px;width:8px;height:1px;background:#5a5a5a;"></div>
<div class="r" style="left:522px;top:320px;width:8px;height:1px;background:#5a5a5a;"></div>
<div class="r" style="left:537px;top:320px;width:8px;height:1px;background:#5a5a5a;"></div>
<div class="r" style="left:522px;top:328px;width:8px;height:1px;background:#5a5a5a;"></div>
<div class="r" style="left:537px;top:328px;width:8px;height:1px;background:#5a5a5a;"></div>
<div class="r" style="left:522px;top:336px;width:8px;height:1px;background:#5a5a5a;"></div>
<div class="r" style="left:537px;top:336px;width:8px;height:1px;background:#5a5a5a;"></div>
<div class="r" style="left:522px;top:344px;width:8px;height:1px;background:#5a5a5a;"></div>
<div class="r" style="left:537px;top:344px;width:8px;height:1px;background:#5a5a5a;"></div>
<div class="r" style="left:522px;top:352px;width:8px;height:1px;background:#5a5a5a;"></div>
<div class="r" style="left:537px;top:352px;width:8px;height:1px;background:#5a5a5a;"></div>
<div class="r" style="left:522px;top:360px;width:8px;height:1px;background:#5a5a5a;"></div>
<div class="r" style="left:537px;top:360px;width:8px;height:1px;background:#5a5a5a;"></div>
<div class="r" style="left:522px;top:368px;width:8px;height:1px;background:#5a5a5a;"></div>
<div class="r" style="left:537px;top:368px;width:8px;height:1px;background:#5a5a5a;"></div>
<div class="r" style="left:519px;top:376px;width:11px;height:1px;background:#5a5a5a;"></div>
<div class="r" style="left:537px;top:376px;width:11px;height:1px;background:#5a5a5a;"></div>
<div class="r" style="left:522px;top:384px;width:8px;height:1px;background:#5a5a5a;"></div>
<div class="r" style="left:537px;top:384px;width:8px;height:1px;background:#5a5a5a;"></div>
<div class="r" style="left:522px;top:392px;width:8px;height:1px;background:#5a5a5a;"></div>
<div class="r" style="left:537px;top:392px;width:8px;height:1px;background:#5a5a5a;"></div>
<div class="r" style="left:522px;top:400px;width:8px;height:1px;background:#5a5a5a;"></div>
<div class="r" style="left:537px;top:400px;width:8px;height:1px;background:#5a5a5a;"></div>
<div class="r" style="left:522px;top:408px;width:8px;height:1px;background:#5a5a5a;"></div>
<div class="r" style="left:537px;top:408px;width:8px;height:1px;background:#5a5a5a;"></div>
<div class="r" style="left:522px;top:416px;width:8px;height:1px;background:#5a5a5a;"></div>
<div class="r" style="left:537px;top:416px;width:8px;height:1px;background:#5a5a5a;"></div>
<div class="r" style="left:522px;top:424px;width:8px;height:1px;background:#5a5a5a;"></div>
<div class="r" style="left:537px;top:424px;width:8px;height:1px;background:#5a5a5a;"></div>
<div class="r" style="left:522px;top:432px;width:8px;height:1px;background:#5a5a5a;"></div>
<div class="r" style="left:537px;top:432px;width:8px;height:1px;background:#5a5a5a;"></div>
<div class="r" style="left:522px;top:440px;width:8px;height:1px;background:#5a5a5a;"></div>
<div class="r" style="left:537px;top:440px;width:8px;height:1px;background:#5a5a5a;"></div>
<div class="r" style="left:522px;top:448px;width:8px;height:1px;background:#5a5a5a;"></div>
<div class="r" style="left:537px;top:448px;width:8px;height:1px;background:#5a5a5a;"></div>
<div class="r" style="left:519px;top:456px;width:11px;height:1px;background:#5a5a5a;"></div>
<div class="r" style="left:537px;top:456px;width:11px;height:1px;background:#5a5a5a;"></div>
<div class="r" style="left:532px;top:291px;width:3px;height:171px;background:#7a7a7a;border:1px solid #000;box-sizing:border-box"></div>
<div class="r thumb" style="left:525px;top:360px"></div>
<div class="r" style="left:525px;top:376px;width:17px;height:1px;background:#000;"></div>
<div class="r sk" style="left:516px;top:482px;width:34px;height:16px;background:#fff"></div>
<div class="t f9_5" style="left:524px;top:486px;">0.00</div>
<div class="r sk" style="left:516px;top:500px;width:34px;height:16px;background:#fff"></div>
<div class="t f9_5" style="left:527px;top:504px;">2.0</div>
<div class="r sk" style="left:516px;top:518px;width:34px;height:16px;background:#fff"></div>
<div class="t f9_5" style="left:519px;top:522px;">6349.6</div>
<div class="t f9_5" style="left:519px;top:540px;letter-spacing:0.25px;color:#bb0f18;">bypass</div>
<div class="r" style="left:552px;top:277px;width:2px;height:276px;background:#fff;border-left:1px solid #696969;box-sizing:border-box"></div>
<div class="r" style="left:579px;top:363px;width:5px;height:34px;background:#c8c8c8"></div>
<div class="r" style="left:566px;top:392px;width:18px;height:5px;background:#c8c8c8"></div>
<div class="r" style="left:557px;top:296px;width:11px;height:1px;background:#5a5a5a;"></div>
<div class="r" style="left:575px;top:296px;width:11px;height:1px;background:#5a5a5a;"></div>
<div class="r" style="left:560px;top:304px;width:8px;height:1px;background:#5a5a5a;"></div>
<div class="r" style="left:575px;top:304px;width:8px;height:1px;background:#5a5a5a;"></div>
<div class="r" style="left:560px;top:312px;width:8px;height:1px;background:#5a5a5a;"></div>
<div class="r" style="left:575px;top:312px;width:8px;height:1px;background:#5a5a5a;"></div>
<div class="r" style="left:560px;top:320px;width:8px;height:1px;background:#5a5a5a;"></div>
<div class="r" style="left:575px;top:320px;width:8px;height:1px;background:#5a5a5a;"></div>
<div class="r" style="left:560px;top:328px;width:8px;height:1px;background:#5a5a5a;"></div>
<div class="r" style="left:575px;top:328px;width:8px;height:1px;background:#5a5a5a;"></div>
<div class="r" style="left:560px;top:336px;width:8px;height:1px;background:#5a5a5a;"></div>
<div class="r" style="left:575px;top:336px;width:8px;height:1px;background:#5a5a5a;"></div>
<div class="r" style="left:560px;top:344px;width:8px;height:1px;background:#5a5a5a;"></div>
<div class="r" style="left:575px;top:344px;width:8px;height:1px;background:#5a5a5a;"></div>
<div class="r" style="left:560px;top:352px;width:8px;height:1px;background:#5a5a5a;"></div>
<div class="r" style="left:575px;top:352px;width:8px;height:1px;background:#5a5a5a;"></div>
<div class="r" style="left:560px;top:360px;width:8px;height:1px;background:#5a5a5a;"></div>
<div class="r" style="left:575px;top:360px;width:8px;height:1px;background:#5a5a5a;"></div>
<div class="r" style="left:560px;top:368px;width:8px;height:1px;background:#5a5a5a;"></div>
<div class="r" style="left:575px;top:368px;width:8px;height:1px;background:#5a5a5a;"></div>
<div class="r" style="left:557px;top:376px;width:11px;height:1px;background:#5a5a5a;"></div>
<div class="r" style="left:575px;top:376px;width:11px;height:1px;background:#5a5a5a;"></div>
<div class="r" style="left:560px;top:384px;width:8px;height:1px;background:#5a5a5a;"></div>
<div class="r" style="left:575px;top:384px;width:8px;height:1px;background:#5a5a5a;"></div>
<div class="r" style="left:560px;top:392px;width:8px;height:1px;background:#5a5a5a;"></div>
<div class="r" style="left:575px;top:392px;width:8px;height:1px;background:#5a5a5a;"></div>
<div class="r" style="left:560px;top:400px;width:8px;height:1px;background:#5a5a5a;"></div>
<div class="r" style="left:575px;top:400px;width:8px;height:1px;background:#5a5a5a;"></div>
<div class="r" style="left:560px;top:408px;width:8px;height:1px;background:#5a5a5a;"></div>
<div class="r" style="left:575px;top:408px;width:8px;height:1px;background:#5a5a5a;"></div>
<div class="r" style="left:560px;top:416px;width:8px;height:1px;background:#5a5a5a;"></div>
<div class="r" style="left:575px;top:416px;width:8px;height:1px;background:#5a5a5a;"></div>
<div class="r" style="left:560px;top:424px;width:8px;height:1px;background:#5a5a5a;"></div>
<div class="r" style="left:575px;top:424px;width:8px;height:1px;background:#5a5a5a;"></div>
<div class="r" style="left:560px;top:432px;width:8px;height:1px;background:#5a5a5a;"></div>
<div class="r" style="left:575px;top:432px;width:8px;height:1px;background:#5a5a5a;"></div>
<div class="r" style="left:560px;top:440px;width:8px;height:1px;background:#5a5a5a;"></div>
<div class="r" style="left:575px;top:440px;width:8px;height:1px;background:#5a5a5a;"></div>
<div class="r" style="left:560px;top:448px;width:8px;height:1px;background:#5a5a5a;"></div>
<div class="r" style="left:575px;top:448px;width:8px;height:1px;background:#5a5a5a;"></div>
<div class="r" style="left:557px;top:456px;width:11px;height:1px;background:#5a5a5a;"></div>
<div class="r" style="left:575px;top:456px;width:11px;height:1px;background:#5a5a5a;"></div>
<div class="r" style="left:570px;top:291px;width:3px;height:171px;background:#7a7a7a;border:1px solid #000;box-sizing:border-box"></div>
<div class="r thumb" style="left:563px;top:360px"></div>
<div class="r" style="left:563px;top:376px;width:17px;height:1px;background:#000;"></div>
<div class="r sk" style="left:554px;top:482px;width:34px;height:16px;background:#fff"></div>
<div class="t f9_5" style="left:562px;top:486px;">0.00</div>
<div class="r sk" style="left:554px;top:500px;width:34px;height:16px;background:#fff"></div>
<div class="t f9_5" style="left:565px;top:504px;">2.0</div>
<div class="r sk" style="left:554px;top:518px;width:34px;height:16px;background:#fff"></div>
<div class="t f9_5" style="left:558px;top:522px;">10079</div>
<div class="t f9_5" style="left:557px;top:540px;letter-spacing:0.25px;color:#bb0f18;">bypass</div>
<div class="r" style="left:590px;top:277px;width:2px;height:276px;background:#fff;border-left:1px solid #696969;box-sizing:border-box"></div>
<div class="r" style="left:617px;top:363px;width:5px;height:34px;background:#c8c8c8"></div>
<div class="r" style="left:604px;top:392px;width:18px;height:5px;background:#c8c8c8"></div>
<div class="r" style="left:595px;top:296px;width:11px;height:1px;background:#5a5a5a;"></div>
<div class="r" style="left:613px;top:296px;width:11px;height:1px;background:#5a5a5a;"></div>
<div class="r" style="left:598px;top:304px;width:8px;height:1px;background:#5a5a5a;"></div>
<div class="r" style="left:613px;top:304px;width:8px;height:1px;background:#5a5a5a;"></div>
<div class="r" style="left:598px;top:312px;width:8px;height:1px;background:#5a5a5a;"></div>
<div class="r" style="left:613px;top:312px;width:8px;height:1px;background:#5a5a5a;"></div>
<div class="r" style="left:598px;top:320px;width:8px;height:1px;background:#5a5a5a;"></div>
<div class="r" style="left:613px;top:320px;width:8px;height:1px;background:#5a5a5a;"></div>
<div class="r" style="left:598px;top:328px;width:8px;height:1px;background:#5a5a5a;"></div>
<div class="r" style="left:613px;top:328px;width:8px;height:1px;background:#5a5a5a;"></div>
<div class="r" style="left:598px;top:336px;width:8px;height:1px;background:#5a5a5a;"></div>
<div class="r" style="left:613px;top:336px;width:8px;height:1px;background:#5a5a5a;"></div>
<div class="r" style="left:598px;top:344px;width:8px;height:1px;background:#5a5a5a;"></div>
<div class="r" style="left:613px;top:344px;width:8px;height:1px;background:#5a5a5a;"></div>
<div class="r" style="left:598px;top:352px;width:8px;height:1px;background:#5a5a5a;"></div>
<div class="r" style="left:613px;top:352px;width:8px;height:1px;background:#5a5a5a;"></div>
<div class="r" style="left:598px;top:360px;width:8px;height:1px;background:#5a5a5a;"></div>
<div class="r" style="left:613px;top:360px;width:8px;height:1px;background:#5a5a5a;"></div>
<div class="r" style="left:598px;top:368px;width:8px;height:1px;background:#5a5a5a;"></div>
<div class="r" style="left:613px;top:368px;width:8px;height:1px;background:#5a5a5a;"></div>
<div class="r" style="left:595px;top:376px;width:11px;height:1px;background:#5a5a5a;"></div>
<div class="r" style="left:613px;top:376px;width:11px;height:1px;background:#5a5a5a;"></div>
<div class="r" style="left:598px;top:384px;width:8px;height:1px;background:#5a5a5a;"></div>
<div class="r" style="left:613px;top:384px;width:8px;height:1px;background:#5a5a5a;"></div>
<div class="r" style="left:598px;top:392px;width:8px;height:1px;background:#5a5a5a;"></div>
<div class="r" style="left:613px;top:392px;width:8px;height:1px;background:#5a5a5a;"></div>
<div class="r" style="left:598px;top:400px;width:8px;height:1px;background:#5a5a5a;"></div>
<div class="r" style="left:613px;top:400px;width:8px;height:1px;background:#5a5a5a;"></div>
<div class="r" style="left:598px;top:408px;width:8px;height:1px;background:#5a5a5a;"></div>
<div class="r" style="left:613px;top:408px;width:8px;height:1px;background:#5a5a5a;"></div>
<div class="r" style="left:598px;top:416px;width:8px;height:1px;background:#5a5a5a;"></div>
<div class="r" style="left:613px;top:416px;width:8px;height:1px;background:#5a5a5a;"></div>
<div class="r" style="left:598px;top:424px;width:8px;height:1px;background:#5a5a5a;"></div>
<div class="r" style="left:613px;top:424px;width:8px;height:1px;background:#5a5a5a;"></div>
<div class="r" style="left:598px;top:432px;width:8px;height:1px;background:#5a5a5a;"></div>
<div class="r" style="left:613px;top:432px;width:8px;height:1px;background:#5a5a5a;"></div>
<div class="r" style="left:598px;top:440px;width:8px;height:1px;background:#5a5a5a;"></div>
<div class="r" style="left:613px;top:440px;width:8px;height:1px;background:#5a5a5a;"></div>
<div class="r" style="left:598px;top:448px;width:8px;height:1px;background:#5a5a5a;"></div>
<div class="r" style="left:613px;top:448px;width:8px;height:1px;background:#5a5a5a;"></div>
<div class="r" style="left:595px;top:456px;width:11px;height:1px;background:#5a5a5a;"></div>
<div class="r" style="left:613px;top:456px;width:11px;height:1px;background:#5a5a5a;"></div>
<div class="r" style="left:608px;top:291px;width:3px;height:171px;background:#7a7a7a;border:1px solid #000;box-sizing:border-box"></div>
<div class="r thumb" style="left:601px;top:360px"></div>
<div class="r" style="left:601px;top:376px;width:17px;height:1px;background:#000;"></div>
<div class="r sk" style="left:592px;top:482px;width:34px;height:16px;background:#fff"></div>
<div class="t f9_5" style="left:600px;top:486px;">0.00</div>
<div class="r sk" style="left:592px;top:500px;width:34px;height:16px;background:#fff"></div>
<div class="t f9_5" style="left:603px;top:504px;">2.0</div>
<div class="r sk" style="left:592px;top:518px;width:34px;height:16px;background:#fff"></div>
<div class="t f9_5" style="left:596px;top:522px;">16000</div>
<div class="t f9_5" style="left:595px;top:540px;letter-spacing:0.25px;color:#bb0f18;">bypass</div>
<div class="r" style="left:628px;top:277px;width:2px;height:276px;background:#fff;border-left:1px solid #696969;box-sizing:border-box"></div>
<div class="r" style="left:655px;top:363px;width:5px;height:34px;background:#c8c8c8"></div>
<div class="r" style="left:642px;top:392px;width:18px;height:5px;background:#c8c8c8"></div>
<div class="r" style="left:633px;top:296px;width:11px;height:1px;background:#5a5a5a;"></div>
<div class="r" style="left:651px;top:296px;width:11px;height:1px;background:#5a5a5a;"></div>
<div class="r" style="left:636px;top:304px;width:8px;height:1px;background:#5a5a5a;"></div>
<div class="r" style="left:651px;top:304px;width:8px;height:1px;background:#5a5a5a;"></div>
<div class="r" style="left:636px;top:312px;width:8px;height:1px;background:#5a5a5a;"></div>
<div class="r" style="left:651px;top:312px;width:8px;height:1px;background:#5a5a5a;"></div>
<div class="r" style="left:636px;top:320px;width:8px;height:1px;background:#5a5a5a;"></div>
<div class="r" style="left:651px;top:320px;width:8px;height:1px;background:#5a5a5a;"></div>
<div class="r" style="left:636px;top:328px;width:8px;height:1px;background:#5a5a5a;"></div>
<div class="r" style="left:651px;top:328px;width:8px;height:1px;background:#5a5a5a;"></div>
<div class="r" style="left:636px;top:336px;width:8px;height:1px;background:#5a5a5a;"></div>
<div class="r" style="left:651px;top:336px;width:8px;height:1px;background:#5a5a5a;"></div>
<div class="r" style="left:636px;top:344px;width:8px;height:1px;background:#5a5a5a;"></div>
<div class="r" style="left:651px;top:344px;width:8px;height:1px;background:#5a5a5a;"></div>
<div class="r" style="left:636px;top:352px;width:8px;height:1px;background:#5a5a5a;"></div>
<div class="r" style="left:651px;top:352px;width:8px;height:1px;background:#5a5a5a;"></div>
<div class="r" style="left:636px;top:360px;width:8px;height:1px;background:#5a5a5a;"></div>
<div class="r" style="left:651px;top:360px;width:8px;height:1px;background:#5a5a5a;"></div>
<div class="r" style="left:636px;top:368px;width:8px;height:1px;background:#5a5a5a;"></div>
<div class="r" style="left:651px;top:368px;width:8px;height:1px;background:#5a5a5a;"></div>
<div class="r" style="left:633px;top:376px;width:11px;height:1px;background:#5a5a5a;"></div>
<div class="r" style="left:651px;top:376px;width:11px;height:1px;background:#5a5a5a;"></div>
<div class="r" style="left:636px;top:384px;width:8px;height:1px;background:#5a5a5a;"></div>
<div class="r" style="left:651px;top:384px;width:8px;height:1px;background:#5a5a5a;"></div>
<div class="r" style="left:636px;top:392px;width:8px;height:1px;background:#5a5a5a;"></div>
<div class="r" style="left:651px;top:392px;width:8px;height:1px;background:#5a5a5a;"></div>
<div class="r" style="left:636px;top:400px;width:8px;height:1px;background:#5a5a5a;"></div>
<div class="r" style="left:651px;top:400px;width:8px;height:1px;background:#5a5a5a;"></div>
<div class="r" style="left:636px;top:408px;width:8px;height:1px;background:#5a5a5a;"></div>
<div class="r" style="left:651px;top:408px;width:8px;height:1px;background:#5a5a5a;"></div>
<div class="r" style="left:636px;top:416px;width:8px;height:1px;background:#5a5a5a;"></div>
<div class="r" style="left:651px;top:416px;width:8px;height:1px;background:#5a5a5a;"></div>
<div class="r" style="left:636px;top:424px;width:8px;height:1px;background:#5a5a5a;"></div>
<div class="r" style="left:651px;top:424px;width:8px;height:1px;background:#5a5a5a;"></div>
<div class="r" style="left:636px;top:432px;width:8px;height:1px;background:#5a5a5a;"></div>
<div class="r" style="left:651px;top:432px;width:8px;height:1px;background:#5a5a5a;"></div>
<div class="r" style="left:636px;top:440px;width:8px;height:1px;background:#5a5a5a;"></div>
<div class="r" style="left:651px;top:440px;width:8px;height:1px;background:#5a5a5a;"></div>
<div class="r" style="left:636px;top:448px;width:8px;height:1px;background:#5a5a5a;"></div>
<div class="r" style="left:651px;top:448px;width:8px;height:1px;background:#5a5a5a;"></div>
<div class="r" style="left:633px;top:456px;width:11px;height:1px;background:#5a5a5a;"></div>
<div class="r" style="left:651px;top:456px;width:11px;height:1px;background:#5a5a5a;"></div>
<div class="r" style="left:646px;top:291px;width:3px;height:171px;background:#7a7a7a;border:1px solid #000;box-sizing:border-box"></div>
<div class="r thumb" style="left:639px;top:360px"></div>
<div class="r" style="left:639px;top:376px;width:17px;height:1px;background:#000;"></div>
<div class="r sk" style="left:630px;top:482px;width:34px;height:16px;background:#fff"></div>
<div class="t f9_5" style="left:638px;top:486px;">0.00</div>
<div class="r sk" style="left:630px;top:500px;width:34px;height:16px;background:#fff"></div>
<div class="t f9_5" style="left:641px;top:504px;">2.0</div>
<div class="r sk" style="left:630px;top:518px;width:34px;height:16px;background:#fff"></div>
<div class="t f9_5" style="left:635px;top:522px;">25398</div>
<div class="t f9_5" style="left:633px;top:540px;letter-spacing:0.25px;color:#bb0f18;">bypass</div>
<div class="r" style="left:666px;top:276px;width:10px;height:277px;background:#f0f0f0;border-left:1px solid #696969;box-sizing:border-box"></div>
<div class="r" style="left:705px;top:221px;width:249px;height:400px;border:1px solid #a0a0a0;box-shadow:inset 1px 1px #fff, 1px 1px #fff;box-sizing:border-box"></div>
<div class="r" style="left:711px;top:214px;width:80px;height:14px;background:#f0f0f0;"></div>
<div class="t f11" style="left:712px;top:217px;letter-spacing:-0.223px;">Impulse Settings</div>
<div class="t f11" style="left:749px;top:239px;letter-spacing:-0.3px;">taps</div>
<div class="r sk" style="left:776px;top:234px;width:117px;height:17px;background:#fff"></div>
<div class="t f11" style="left:779px;top:239px;letter-spacing:-0.3px;">65536</div>
<div class="t f11" style="left:902px;top:239px;letter-spacing:-0.25px;">samples</div>
<div class="t f11" style="left:720px;top:267px;letter-spacing:-0.356px;">FFT length</div>
<div class="r sk" style="left:776px;top:262px;width:117px;height:17px;background:#fff"></div>
<div class="r rs" style="left:877px;top:264px;width:14px;height:13px;background:#f0f0f0"></div>
<svg class="r" style="left:881px;top:269px" width="7" height="4"><path d="M0 0H7L3.5 4Z" fill="#000"/></svg>
<div class="t f11" style="left:778px;top:267px;letter-spacing:0.14px;">131072</div>
<div class="t f11" style="left:902px;top:267px;letter-spacing:-0.25px;">samples</div>
<div class="t f11" style="left:725px;top:305px;letter-spacing:-0.075px;">centering</div>
<div class="r sk" style="left:776px;top:290px;width:159px;height:18px;background:#fff"></div>
<div class="r rs" style="left:919px;top:292px;width:14px;height:14px;background:#f0f0f0"></div>
<svg class="r" style="left:923px;top:298px" width="7" height="4"><path d="M0 0H7L3.5 4Z" fill="#000"/></svg>
<div class="t f11" style="left:780px;top:295px;letter-spacing:-0.58px;">middle</div>
<div class="r sk" style="left:776px;top:310px;width:159px;height:18px;background:#fff"></div>
<div class="r rs" style="left:919px;top:312px;width:14px;height:14px;background:#f0f0f0"></div>
<svg class="r" style="left:923px;top:318px" width="7" height="4"><path d="M0 0H7L3.5 4Z" fill="#000"/></svg>
<div class="t f11" style="left:780px;top:315px;letter-spacing:-0.027px;">use closest perfect impulse</div>
<div class="t f11" style="left:717px;top:343px;letter-spacing:0.25px;">windowing</div>
<div class="r sk" style="left:776px;top:338px;width:117px;height:17px;background:#fff"></div>
<div class="r rs" style="left:877px;top:340px;width:14px;height:13px;background:#f0f0f0"></div>
<svg class="r" style="left:881px;top:345px" width="7" height="4"><path d="M0 0H7L3.5 4Z" fill="#000"/></svg>
<div class="t f11" style="left:780px;top:343px;letter-spacing:-0.4px;">hann</div>
<div class="t f11" style="left:714px;top:371px;letter-spacing:-0.309px;">optimization</div>
<div class="r sk" style="left:776px;top:366px;width:74px;height:17px;background:#fff"></div>
<div class="r rs" style="left:834px;top:368px;width:14px;height:13px;background:#f0f0f0"></div>
<svg class="r" style="left:838px;top:373px" width="7" height="4"><path d="M0 0H7L3.5 4Z" fill="#000"/></svg>
<div class="t f11" style="left:778px;top:371px;letter-spacing:0.038px;">extensive</div>
<div class="t f11" style="left:861px;top:371px;letter-spacing:-0.1px;">to</div>
<div class="r sk" style="left:878px;top:366px;width:45px;height:17px;background:#fff"></div>
<div class="r rs" style="left:907px;top:368px;width:14px;height:13px;background:#f0f0f0"></div>
<svg class="r" style="left:911px;top:373px" width="7" height="4"><path d="M0 0H7L3.5 4Z" fill="#000"/></svg>
<div class="t f11" style="left:882px;top:371px;letter-spacing:-0.133px;">-100</div>
<div class="t f11" style="left:932px;top:371px;letter-spacing:-0.5px;">dB</div>
<div class="t f11" style="left:752px;top:399px;letter-spacing:-0.4px;">rate</div>
<div class="r sk" style="left:776px;top:394px;width:117px;height:17px;background:#fff"></div>
<div class="r rs" style="left:877px;top:396px;width:14px;height:13px;background:#f0f0f0"></div>
<svg class="r" style="left:881px;top:401px" width="7" height="4"><path d="M0 0H7L3.5 4Z" fill="#000"/></svg>
<div class="t f11" style="left:779px;top:399px;letter-spacing:-0.25px;">96000</div>
<div class="t f11" style="left:901px;top:399px;letter-spacing:0.3px;">Hz</div>
<div class="t f11" style="left:740px;top:427px;letter-spacing:-0.26px;">format</div>
<div class="r sk" style="left:776px;top:422px;width:159px;height:17px;background:#fff"></div>
<div class="r rs" style="left:919px;top:424px;width:14px;height:13px;background:#f0f0f0"></div>
<svg class="r" style="left:923px;top:429px" width="7" height="4"><path d="M0 0H7L3.5 4Z" fill="#000"/></svg>
<div class="t f11" style="left:779px;top:427px;letter-spacing:-0.016px;">32 / 64 bits floats lines (.txt)</div>
<div class="t f11" style="left:730px;top:455px;letter-spacing:-0.471px;">filename</div>
<div class="r sk" style="left:776px;top:450px;width:159px;height:17px;background:#fff"></div>
<div class="t f11" style="left:778px;top:455px;letter-spacing:-0.014px;">201116-96khz-L-min-test</div>
<div class="t f11" style="left:726px;top:483px;letter-spacing:0.075px;">directory</div>
<div class="r sk" style="left:776px;top:478px;width:159px;height:17px;background:#fff"></div>
<div class="r" style="left:778px;top:480px;width:157px;height:15px;overflow:hidden">
<div class="t f11" style="left:0px;top:3px;letter-spacing:-0.1px;">C:\Users\Oscar\Desktop\Filters\HRTF</div>
</div>
<div class="r rs" style="left:717px;top:507px;width:224px;height:23px;background:#f0f0f0"></div>
<div class="t f11" style="left:809px;top:515px;letter-spacing:-0.143px;">generate</div>
<div class="r" style="left:717px;top:537px;width:226px;height:40px;background:#fff;border:1px solid #a0a0a0;box-sizing:border-box"></div>
<div class="r" style="left:975px;top:232px;width:200px;height:400px;background:#f0f0f0;border-top:1px solid #fff;border-left:1px solid #fff;box-sizing:border-box"></div>
<div class="r" style="left:1025px;top:214px;width:75px;height:18px;background:#dcdcdc;"></div>
<div class="r" style="left:1025px;top:213px;width:74px;height:1px;background:#fff;"></div>
<div class="r" style="left:1024px;top:214px;width:1px;height:18px;background:#fff;"></div>
<div class="r" style="left:1100px;top:215px;width:1px;height:17px;background:#808080;"></div>
<div class="t f11" style="left:1029px;top:218px;letter-spacing:-0.23px;">Measurement</div>
<div class="r" style="left:976px;top:214px;width:47px;height:19px;background:#f0f0f0;"></div>
<div class="r" style="left:976px;top:213px;width:46px;height:1px;background:#fff;"></div>
<div class="r" style="left:975px;top:214px;width:1px;height:19px;background:#fff;"></div>
<div class="r" style="left:1023px;top:215px;width:1px;height:18px;background:#808080;"></div>
<div class="t f11" style="left:981px;top:218px;letter-spacing:-0.14px;">Ranges</div>
<div class="t f11" style="left:1019px;top:249px;letter-spacing:0.325px;">Views</div>
<div class="r sk" style="left:1056px;top:244px;width:19px;height:18px;background:#f0f0f0"></div>
<div class="t f9" style="left:1064px;top:251px;">1</div>
<div class="r rs" style="left:1078px;top:244px;width:19px;height:18px;background:#f0f0f0"></div>
<div class="t f9" style="left:1086px;top:251px;">2</div>
<div class="r rs" style="left:1100px;top:244px;width:19px;height:18px;background:#f0f0f0"></div>
<div class="t f9" style="left:1108px;top:251px;">3</div>
<div class="r rs" style="left:1122px;top:244px;width:19px;height:18px;background:#f0f0f0"></div>
<div class="t f9" style="left:1130px;top:251px;">4</div>
<div class="r rs" style="left:1144px;top:244px;width:19px;height:18px;background:#f0f0f0"></div>
<div class="t f9" style="left:1152px;top:251px;">5</div>
<div class="r rs" style="left:1166px;top:244px;width:19px;height:18px;background:#f0f0f0"></div>
<div class="t f9" style="left:1174px;top:251px;">6</div>
<div class="t f11" style="left:998px;top:278px;letter-spacing:-0.088px;">Frequency</div>
<div class="r sk" style="left:1056px;top:273px;width:57px;height:17px;background:#fff"></div>
<div class="r rs" style="left:1097px;top:275px;width:14px;height:13px;background:#f0f0f0"></div>
<svg class="r" style="left:1101px;top:280px" width="7" height="4"><path d="M0 0H7L3.5 4Z" fill="#000"/></svg>
<div class="t f11" style="left:1059px;top:278px;letter-spacing:-0.533px;">20Hz</div>
<div class="t f11" style="left:1123px;top:278px;letter-spacing:-0.1px;">to</div>
<div class="r sk" style="left:1140px;top:273px;width:58px;height:17px;background:#fff"></div>
<div class="t f11" style="left:1144px;top:278px;">20kHz</div>
<div class="t f11" style="left:1003px;top:306px;letter-spacing:-0.388px;">Amplitude</div>
<div class="r sk" style="left:1056px;top:301px;width:57px;height:17px;background:#fff"></div>
<div class="r rs" style="left:1097px;top:303px;width:14px;height:13px;background:#f0f0f0"></div>
<svg class="r" style="left:1101px;top:308px" width="7" height="4"><path d="M0 0H7L3.5 4Z" fill="#000"/></svg>
<div class="t f11" style="left:1059px;top:306px;letter-spacing:-0.067px;">60dB</div>
<div class="t f11" style="left:1123px;top:306px;letter-spacing:-0.1px;">to</div>
<div class="r sk" style="left:1140px;top:301px;width:58px;height:17px;background:#fff"></div>
<div class="t f11" style="left:1144px;top:306px;">90dB</div>
<div class="t f11" style="left:1020px;top:334px;letter-spacing:-0.3px;">Phase</div>
<div class="r sk" style="left:1056px;top:329px;width:57px;height:17px;background:#fff"></div>
<div class="r rs" style="left:1097px;top:331px;width:14px;height:13px;background:#f0f0f0"></div>
<svg class="r" style="left:1101px;top:336px" width="7" height="4"><path d="M0 0H7L3.5 4Z" fill="#000"/></svg>
<div class="t f11" style="left:1059px;top:334px;letter-spacing:-0.012px;">-180&deg;</div>
<div class="t f11" style="left:1123px;top:334px;letter-spacing:-0.1px;">to</div>
<div class="r sk" style="left:1140px;top:329px;width:58px;height:17px;background:#fff"></div>
<div class="t f11" style="left:1142px;top:334px;letter-spacing:-0.014px;">180&deg;</div>
<div class="r" style="left:1064px;top:276px;width:2px;height:14px;background:#000;"></div>
<div class="t f11" style="left:1018px;top:362px;letter-spacing:-0.055px;">hide result phase below</div>
<div class="r sk" style="left:1140px;top:357px;width:58px;height:17px;background:#fff"></div>
<div class="t f11" style="left:1144px;top:362px;">-100dB</div>
<div class="t f11" style="left:1076px;top:390px;letter-spacing:0.033px;">wrap phase</div>
<div class="r sk" style="left:1140px;top:385px;width:58px;height:17px;background:#fff"></div>
<div class="t f11" style="left:1144px;top:390px;letter-spacing:0.2px;">yes</div></body></html>
